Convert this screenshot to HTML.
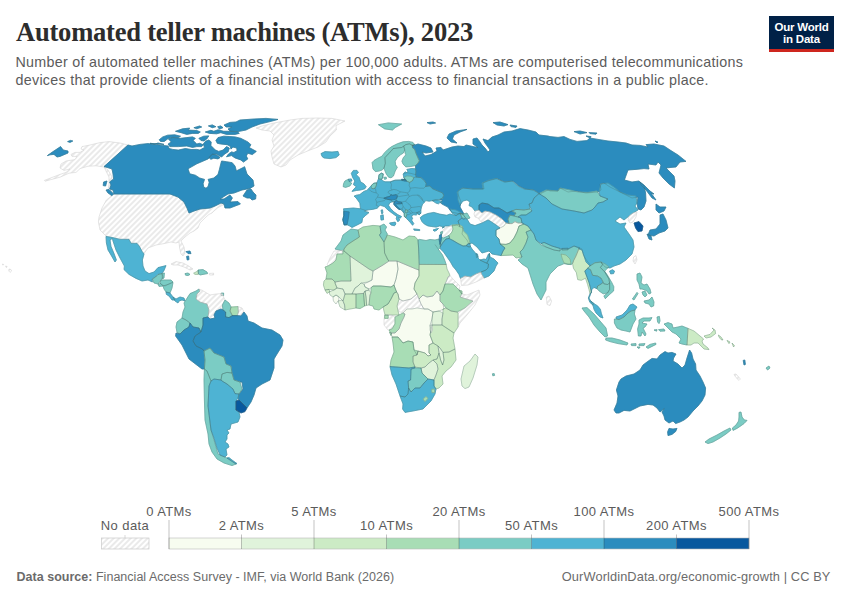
<!DOCTYPE html>
<html lang="en"><head><meta charset="utf-8"><title>Automated teller machines (ATMs), 2023</title>
<style>
html,body{margin:0;padding:0;background:#fff;}
body{width:850px;height:600px;position:relative;overflow:hidden;font-family:"Liberation Sans",sans-serif;}
#title{position:absolute;left:16px;top:16px;margin:0;font-family:"Liberation Serif",serif;font-weight:bold;font-size:26.6px;line-height:32px;color:#2d2d2d;white-space:nowrap;letter-spacing:-0.25px;}
#sub{position:absolute;left:15.5px;top:52.6px;margin:0;font-size:14.3px;line-height:18px;color:#5b5b5b;white-space:nowrap;letter-spacing:0.28px;}
#logo{position:absolute;left:769px;top:16px;width:65px;height:33px;background:#002147;border-bottom:3px solid #ce261e;color:#fff;font-weight:bold;font-size:11.5px;line-height:12px;text-align:center;letter-spacing:-0.22px;}
#logo span{display:block;}
#src{position:absolute;left:16.5px;top:569.3px;font-size:12.5px;line-height:16px;color:#6b6b6b;white-space:nowrap;letter-spacing:0.02px;}
#src b{font-weight:bold;}
#url{position:absolute;right:19.5px;top:569.3px;font-size:12.8px;line-height:16px;color:#6b6b6b;white-space:nowrap;letter-spacing:0.11px;}
#map{position:absolute;left:0;top:0;}
</style></head><body>
<h1 id="title">Automated teller machines (ATMs), 2023</h1>
<p id="sub">Number of automated teller machines (ATMs) per 100,000 adults. ATMs are computerised telecommunications<br>devices that provide clients of a financial institution with access to financial transactions in a public place.</p>
<div id="logo"><span style="padding-top:5px">Our World</span><span>in Data</span></div>
<svg id="map" width="850" height="600" viewBox="0 0 850 600">
<defs><pattern id="hatch" width="4" height="4" patternUnits="userSpaceOnUse" patternTransform="rotate(45)"><rect width="4" height="4" fill="#fff"/><line x1="1" y1="0" x2="1" y2="4" stroke="#e2e2e2" stroke-width="1.45"/></pattern>
<style>.lt{font-family:"Liberation Sans",sans-serif;font-size:13px;fill:#5b5b5b;letter-spacing:0.4px;}</style></defs>
<g id="countries">
<path d="M47.4,155.6L52.4,152L60.6,146.6L63.2,150L68,151L68,153L60,156.4L57,157L54,154.4L50,154.8ZM67.6,141.6L70.4,140.4L72.8,141L70,142.4Z" fill="#2b8cbe" stroke="#2b8cbe" stroke-width="0.7" stroke-linejoin="round"/>
<path d="M128,145L120,143L109,141.6L100,142.6L90,145L82,146.6L81,149L84,150L80,152.4L75,152.4L71,154.4L72,156.4L77,156.4L75,159.6L66,161L61,164L60,168L64,170.4L70,169L66,172.4L60,174.4L44.4,180.4L45,181.2L60,177.2L69,173.2L76,172.4L80,168.6L88,166.2L96,165.8L104,167L108,170L111.6,176L112.6,184L110,189L113.6,194L111.2,196.4L108,190.4L109,184L109,177L106,171L104,166.6ZM114,194L170,194L178,197L184,202L187,208L189,213L194,211L200,209L210,208L215,206L221,203L224,204L225,208L226,203L223,205L218,207.6L214,211L212,213L209,214.4L206,217L203,220L200,223L198,228L194,231L190,233L185,237L181,241L184,247L185,253L183,256L181,254L179.6,248L179,242L176,243L171,242L164,243.6L156,245L148,248L144,253.6L142,251L139,246L137,243L131,243L129,239L120,239L113,237.6L106,236L100,230L98.4,222L99,217L102,208L106.4,200L109,198Z" fill="url(#hatch)" stroke="#d3d3d3" stroke-width="0.6" stroke-linejoin="round"/>
<path d="M128,145L132,146L140,144.4L148,143.6L154,144.4L158,143L164,144.4L150,143.3L152.8,144L156.4,144.4L162.8,145.4L168.1,146L169.1,148.5L172.7,149.4L178.3,150.1L185.4,148.5L191.1,149.5L196.8,149.4L199.9,150.1L204.5,147.4L203.3,144L205.5,141.2L208.8,140L211.2,141.9L210.9,145.4L213.2,148L215.5,150L218.7,151.4L223,150.1L226.5,146.6L229.3,148L228.2,151.8L224.4,154.2L221.6,157L216.6,154.2L212.3,154.2L208.1,158.9L196.8,163.8L188,168.8L189.7,173.8L195.3,175.2L199.6,178L204.5,179.4L203.1,183.7L203.8,187.2L206,188.2L208.1,186.5L209.2,182.3L208.1,179.4L213.8,178L218,174.5L219.4,169.5L220.8,163.8L221.6,161L226.5,161.7L232.2,162.7L235,166L236.4,170.9L242.1,168.1L244.6,166.7L247,174L253,180L254,186L250,188.4L242,190L234,193L228,194L220,199L224,199L230,195L232.4,198L230,202L238,201.6L240.4,204L230,208L225,208L224,204L221,203L215,206L210,208L200,209L194,211L189,213L187,208L184,202L178,197L170,194L114,194L113,190L109.6,189L111,185L109.6,182L113.6,179L113,174L112,169L109,168L104,166.6ZM106,190L109,189.4L113.6,194L112,195.6L108,193ZM103.6,182L107,181L105.6,186L103.2,185.6ZM243,196L247,190L251,189L253,192L256,195L255.6,199L252,200L250,198L247,198ZM215.9,140.5L218,137.6L223.7,136.2L229.3,136.5L235,136.9L240.7,138.3L247.8,141.9L250.9,144.7L249.2,147.5L256.3,151.4L252.3,154.6L247.8,153.2L246.3,156L247.8,158.9L243.5,162.1L240.7,159.9L235,157.9L231.5,155.6L226.5,156.8L228.6,153.9L231.5,151.9L233.9,152.5L237.1,150.7L236.7,148L232.9,147.1L231,149.1L230.1,146.1L227.2,144.7L220.8,144L217.3,143.3ZM208.8,157.5L212.3,154.2L216.6,155.1L220.1,157.5L218,158.9L213.8,158.2L210.9,159.3ZM168.4,139L172.7,137.6L180.5,138.3L186.8,137.6L192.5,136.9L195.3,138.3L193.2,140.5L196.8,144L199.6,143.3L203.1,144.7L201.7,146.6L196.8,146.6L192.5,147.4L186.8,146L178.3,146.6L169.8,146.6L168.1,144L171.3,141.9ZM159.2,139.8L162.8,136.9L167.7,135.2L174.8,134.8L180.5,136.2L178.3,137.6L172.7,137.2L168.4,138.3L164.2,141.5L160.6,141.5ZM198.9,138.3L203.8,136.2L208.8,135.9L206.7,139L203.8,140.9L201,140.5ZM175.5,131.3L182.6,128.8L189.7,128.1L188.3,130.1L196.8,130.5L200.3,132L198.2,133.4L192.5,133.4L186.8,134.4L181.2,132.7ZM193.9,127.7L199.6,126L201.7,127L196.8,128.8ZM205.3,132L210.9,130.3L213.8,131.3L218,129.8L223.7,131.3L229.3,131.3L237.8,132L239.3,133.4L235,134.4L226.5,134.4L220.8,132.7L216.6,133.8L209.5,133.4ZM208.4,125.9L212.3,124.9L215.9,126.7L212.3,127.7ZM217.7,126.7L220.8,125.9L223,127.7L219.4,129.1ZM224,125L230,122.4L236,122L240,120L254,119L266,118.4L278,119.4L270,121.6L260,124L252,127L246,130L238,131.6L230,131L228,129L232,127L226,127Z" fill="#2b8cbe" stroke="#2b8cbe" stroke-width="0.7" stroke-linejoin="round"/>
<path d="M256,128L262,126L274,123L290,120L302,118.4L318,118L332,118.4L345,121L336,125.6L336.4,130L330,136L326,142L318,147L310,150L298,155L290,160L286,165L281,167L274,164L272,157L271,151L274,146L272,140L274,135L270,131L262,130Z" fill="url(#hatch)" stroke="#d3d3d3" stroke-width="0.6" stroke-linejoin="round"/>
<path d="M321,153.6L325,151.6L332,152L338,151.4L339.2,155L336,157.6L330,158.6L324,158L322,156.4ZM106,236.4L106.4,243L108,250L111,255L115,262L116.4,260L114,253.6L111,246.4L110,240L112.4,238.4L113,241L116,250L120,258L124.4,266L124,269.6L129,274.4L136,278.4L142,281L148,280L152.4,282L152,279L155.6,277L158,274.4L162,273.6L164,270.4L166,265.6L158,267.6L154,272L149,273.6L145,271L143,266L142.4,260L144,254L142,251.4L139.4,246.4L137,243.4L131,243.4L129,239.4L120,239.4L112.4,237.6Z" fill="#4eb3d3" stroke="#4eb3d3" stroke-width="0.7" stroke-linejoin="round"/>
<path d="M152.4,279L155.6,277L158,274.4L162,273.6L163,277L161,280L158,284L154,283ZM162,273.6L164.4,273L164,278L162.4,279ZM161,280L164,280L171,280L173,282L169,284L165,286L162,285L160,283ZM158,284L161,283.6L163,286L159,286.4ZM163,286L169,284L173,282.4L172,288L170,293L166,292L164,289Z" fill="#7bccc4" stroke="#7bccc4" stroke-width="0.7" stroke-linejoin="round"/>
<path d="M166,292L170,293L173,297L175,300L172,300L169,296L166.4,294.4ZM173,297L176,299L180,297L184,298L185,301L182,300L179,301L178,303L175,301Z" fill="#4eb3d3" stroke="#4eb3d3" stroke-width="0.7" stroke-linejoin="round"/>
<path d="M171,264L176,261.6L183,263L188,265.6L193,269L190,270L184,267L178,265L173,265Z" fill="url(#hatch)" stroke="#d3d3d3" stroke-width="0.6" stroke-linejoin="round"/>
<path d="M186,251.6L190,251L191,253.6L188,253.6ZM186.6,256.4L188.6,256L189,259.6L187.2,260Z" fill="#2b8cbe" stroke="#2b8cbe" stroke-width="0.7" stroke-linejoin="round"/>
<path d="M185,273.6L188,273L190,274.4L188,275.6L185.6,275.2Z" fill="#7bccc4" stroke="#7bccc4" stroke-width="0.7" stroke-linejoin="round"/>
<path d="M193.6,273.2L196,272L198.4,270.4L198.4,274.4L195,274.4Z" fill="#ccebc5" stroke="#ccebc5" stroke-width="0.7" stroke-linejoin="round"/>
<path d="M198,270L203,269.6L207,272L207.6,273.6L203,274.4L200,275L198.4,273.6Z" fill="#7bccc4" stroke="#7bccc4" stroke-width="0.7" stroke-linejoin="round"/>
<path d="M209.6,273.4L213.6,273.2L213.6,275L209.6,275Z" fill="url(#hatch)" stroke="#d3d3d3" stroke-width="0.6" stroke-linejoin="round"/>
<path d="M221,293.2L223.6,293L223.6,295.6L221.2,295.6ZM184,303L190,293.6L196,291L199,289L200,291L197,294L196,299L200,302L207,304L209,310L208,317L203,318L203,325L201,332L199,328L193,327L190,323L186,320L182,318L183,312L185,307Z" fill="#7bccc4" stroke="#7bccc4" stroke-width="0.7" stroke-linejoin="round"/>
<path d="M199,289L202.4,290.4L210,295L216,294L222,293.6L225,300L222.4,305L223,310L221,309L216,311L214,315L215,318L210,319L208,317L209,310L207,304L200,302L196,299L197,294L200,291Z" fill="url(#hatch)" stroke="#d3d3d3" stroke-width="0.6" stroke-linejoin="round"/>
<path d="M225,300L229,303L231,307L230,311L232.4,315.6L229,317.6L225.6,317L225.6,312L223,310L222.4,305Z" fill="#7bccc4" stroke="#7bccc4" stroke-width="0.7" stroke-linejoin="round"/>
<path d="M231,307L238,306.6L238.4,312L237.4,315.6L232.4,315.6L230,311Z" fill="#a8ddb5" stroke="#a8ddb5" stroke-width="0.7" stroke-linejoin="round"/>
<path d="M238,306.6L242,308L244,312L241,316L237.4,315.6L238.4,312Z" fill="url(#hatch)" stroke="#d3d3d3" stroke-width="0.6" stroke-linejoin="round"/>
<path d="M177,322L182,318L186,320L190,323L189,327L184,330L180,334L177,332.4L176,327Z" fill="#7bccc4" stroke="#7bccc4" stroke-width="0.7" stroke-linejoin="round"/>
<path d="M176,333L180,334L184,330L189,327L190,323L193,327L199,328L201,332L195,336L193,341L196,346L202.4,349L204,351L205,360L204.4,369L202,369L189,359L182,345L175.6,336ZM203,318L208,317L210,319L215,318L214,315L216,311L221,309L223,310L225.6,312L225.6,317L229,317.6L232.4,315.6L237.4,315.6L241,316L244,312L247,316L248,321L254,323L262,328L272,330L280,335L283,340L282,346L277,354L274,359L274,368L270,380L262,384L256,388L254,395L251,402L247,408L244,405L239,400L238,398L239,394L243,389L242,382L240,382L234,380L232,373L231,366L226,364L224,357L214,353L210,348L204,351L202.4,349L196,346L193,341L195,336L201,332L203,325Z" fill="#2b8cbe" stroke="#2b8cbe" stroke-width="0.7" stroke-linejoin="round"/>
<path d="M204,351L210,348L214,353L224,357L226,364L231,366L232,373L227,372.4L222,374L221,380L214,379L211,381L207,371L204.4,369L205,360ZM222,374L227,372.4L232,373L234,380L240,382L242,389L239,394L235,393.6L233,389L227,384L222,381L221,380ZM204.4,369L207,371L211,381L209,386L208,406L211,430L214,440L218,454L222,456L227,458L230,460L236,464L232,465.6L224,463L217,459L212,452L209,444L208,434L205,420L204.4,400L204,380Z" fill="#7bccc4" stroke="#7bccc4" stroke-width="0.7" stroke-linejoin="round"/>
<path d="M211,381L214,379L221,380L222,381L227,384L233,389L235,393.6L239,394L238,398L236,401L235.6,410L239,412L240,417L238,422L231,424L230,429L227,430L229,433L227,435L227,439L225,442L228,444L229,447L226,449L227,455L225,457L220,455L217,448L214,438L211,430L208,406L209,386ZM227,458L229,457.6L232,460L237,463.6L236,464L230,460Z" fill="#4eb3d3" stroke="#4eb3d3" stroke-width="0.7" stroke-linejoin="round"/>
<path d="M236,401L239,400L244,405L247,408L245,411.6L241,413L236,410Z" fill="#08589e" stroke="#08589e" stroke-width="0.7" stroke-linejoin="round"/>
<path d="M9,269L11,269.6L11.6,271L10,272.4L8.8,271ZM5.6,266L7.2,266.6L6.4,267.6ZM2.4,264L3.6,264.4L3,265.2Z" fill="url(#hatch)" stroke="#d3d3d3" stroke-width="0.6" stroke-linejoin="round"/>
<path d="M335,249L341,241L343,235L351,229L358,230L359.4,237L353,241L347,245L344,249L343,251Z" fill="#7bccc4" stroke="#7bccc4" stroke-width="0.7" stroke-linejoin="round"/>
<path d="M327,265L330,258L334,251L343,250.6L343,254L337,254L336,260L333,263L328,266Z" fill="url(#hatch)" stroke="#d3d3d3" stroke-width="0.6" stroke-linejoin="round"/>
<path d="M344,249L347,245L353,241L359.4,237L358,230L363,227L373,225.4L380,226L381,233L379.4,235L384,242L384.6,253L388,260L389,261L383,265L373,271L369,269L350,256L344,251Z" fill="#a8ddb5" stroke="#a8ddb5" stroke-width="0.7" stroke-linejoin="round"/>
<path d="M380,226L384,224L386.6,227L385,230L387.4,234L386,238L384,242L379.4,235L381,233Z" fill="#7bccc4" stroke="#7bccc4" stroke-width="0.7" stroke-linejoin="round"/>
<path d="M384,242L386,238L387.4,235L395,237L403,240L409,236L415,236.6L418,240L418.6,248L419,270L416,269L397,261L389,261L388,260L384.6,253Z" fill="#a8ddb5" stroke="#a8ddb5" stroke-width="0.7" stroke-linejoin="round"/>
<path d="M418,240L419.4,239.4L420,239.5L426,240.5L430,239.5L435,240L439,239L440,242.5L440.5,245L439.5,248.5L438.5,249.5L442.5,255L445,261L446.2,264.5L419.4,264.4L418.6,248Z" fill="#7bccc4" stroke="#7bccc4" stroke-width="0.7" stroke-linejoin="round"/>
<path d="M325,267L328,266L333,263L336,260L337,254L343,254L343,251L344,251L350,256L351,281L341,281L335,282L332,279L326,279L327,273Z" fill="#a8ddb5" stroke="#a8ddb5" stroke-width="0.7" stroke-linejoin="round"/>
<path d="M350,256L369,269L373,271L372,280L368,282L361,283L358,286L355,288L352,294L345,294L343,289L337,288L335,283L335,282L341,281L351,281Z" fill="#e0f3db" stroke="#e0f3db" stroke-width="0.7" stroke-linejoin="round"/>
<path d="M373,271L383,265L389,261L397,261L398,269L396,279L394,285L391,287L381,286L373,286L369,289L365,287L364,284L368,282L372,280ZM397,261L416,269L419,270L419,276L415,283L414,289L417,294L411,299L403,301L399,299L398,294L396.6,292L395,288L394,285L396,279L398,269Z" fill="#f7fcf0" stroke="#f7fcf0" stroke-width="0.7" stroke-linejoin="round"/>
<path d="M419.4,264.4L446.2,264.5L447,269L449,273L450,275.5L448,277L446.5,281L445,284L443,291L440,295L437,291L433,296L427,297L423,295L419,299L417,294L414,289L415,283L419,276L419,270Z" fill="#ccebc5" stroke="#ccebc5" stroke-width="0.7" stroke-linejoin="round"/>
<path d="M448,277L450,275.5L453,279L457,283L460,286L459,290L453,284L448,284L445,284L446.5,281Z" fill="url(#hatch)" stroke="#d3d3d3" stroke-width="0.6" stroke-linejoin="round"/>
<path d="M445,284L448,284L453,284L459,290L462,294L460,297L473,301L465,308L457,312L451,311L446,308L443,304L440,301L440,295L443,291ZM459,290L462,291L462,294Z" fill="#a8ddb5" stroke="#a8ddb5" stroke-width="0.7" stroke-linejoin="round"/>
<path d="M462,294L467,295L479,290L480,295L475,305L467,315L460,323L458,327L458,313L465,308L473,301L460,297Z" fill="url(#hatch)" stroke="#d3d3d3" stroke-width="0.6" stroke-linejoin="round"/>
<path d="M419,299L423,295L427,297L433,296L437,291L440,295L440,301L443,304L444,309L439,311L433,312L428,309L424,309L421,304Z" fill="#f7fcf0" stroke="#f7fcf0" stroke-width="0.7" stroke-linejoin="round"/>
<path d="M399,299L403,301L411,299L417,294L419,299L421,304L424,309L417,308L412,309L407,309L403,313L398,311L397,306Z" fill="url(#hatch)" stroke="#d3d3d3" stroke-width="0.6" stroke-linejoin="round"/>
<path d="M394,293L396.6,292L398,294L399,299L397,306L398,311L399,315L392,315L385,315L384,311L383,307L388,304L391,299Z" fill="#ccebc5" stroke="#ccebc5" stroke-width="0.7" stroke-linejoin="round"/>
<path d="M371,288L373,286L381,286L391,287L394,285L395,288L396.6,292L394,293L391,299L388,304L383,307L379,310L374,309L373,306L369,305L370,295L371,293Z" fill="#a8ddb5" stroke="#a8ddb5" stroke-width="0.7" stroke-linejoin="round"/>
<path d="M365,291L369,290L371,293L370,295L369,305L366.6,305.4L366,297Z" fill="#e0f3db" stroke="#e0f3db" stroke-width="0.7" stroke-linejoin="round"/>
<path d="M363.6,293.4L365,291L366,297L366.6,305.4L364.6,306L364,299Z" fill="#ccebc5" stroke="#ccebc5" stroke-width="0.7" stroke-linejoin="round"/>
<path d="M356,294L363.6,293.4L364,299L364.6,306L360,308.6L356,308L356,301Z" fill="#a8ddb5" stroke="#a8ddb5" stroke-width="0.7" stroke-linejoin="round"/>
<path d="M352,294L355,288L358,286L361,283L364,284L365,287L369,289L369,290L365,291L363.6,293.4L356,294Z" fill="#e0f3db" stroke="#e0f3db" stroke-width="0.7" stroke-linejoin="round"/>
<path d="M345,294L352,294L356,294L356,301L356,308L350,309L345,310L344.6,305L343,301Z" fill="#ccebc5" stroke="#ccebc5" stroke-width="0.7" stroke-linejoin="round"/>
<path d="M338,301L342,300L343,301L344.6,305L345,310L340,307Z" fill="#e0f3db" stroke="#e0f3db" stroke-width="0.7" stroke-linejoin="round"/>
<path d="M333,297L336,295L339,297L338.6,301L338,301L336,304L333.4,301Z" fill="#f7fcf0" stroke="#f7fcf0" stroke-width="0.7" stroke-linejoin="round"/>
<path d="M329,292L334,290L337,288L343,289L345,294L343,301L342,300L339,297L336,295L333,297L330,295Z" fill="#e0f3db" stroke="#e0f3db" stroke-width="0.7" stroke-linejoin="round"/>
<path d="M325,290L329,289.4L330,292L329,292L327,293.4ZM324,281L326,279L332,279L335,282L335,283L337,288L334,290L329,289.4L325,290L323.4,285Z" fill="#ccebc5" stroke="#ccebc5" stroke-width="0.7" stroke-linejoin="round"/>
<path d="M384,319L385,315L392,315L395,317L395,324L392,329L388,330L384,325Z" fill="url(#hatch)" stroke="#d3d3d3" stroke-width="0.6" stroke-linejoin="round"/>
<path d="M384.6,315.2L388.2,315.2L388.2,318.4L384.6,318.4ZM395,317L399,315L403,313L405,314L404,317L401,323L399,329L395,333L391,333L389,330L392,329L395,324Z" fill="#a8ddb5" stroke="#a8ddb5" stroke-width="0.7" stroke-linejoin="round"/>
<path d="M403,313L407,309L412,309L417,308L424,309L428,309L433,312L432,319L430,325L431,330L430,335L433,343L429,345L429,353L431,355L428,356L425,353L418,351L417,355L414,350L413,342L408,341L403,343L398,337L392,337L391,333L395,333L399,329L401,323L404,317L405,314Z" fill="#f7fcf0" stroke="#f7fcf0" stroke-width="0.7" stroke-linejoin="round"/>
<path d="M392,337L398,337L403,343L408,341L413,342L414,350L418,351L417,355L413,356L413,362L415,367L409,368L396,367L390,366.6L391,360L394,352L393,343ZM389.4,332L391.4,333L391,335.6Z" fill="#a8ddb5" stroke="#a8ddb5" stroke-width="0.7" stroke-linejoin="round"/>
<path d="M417,355L418,351L425,353L428,356L431,355L429,353L429,345L433,343L438,346L439,353L437,359L433,360L429,363L425,367L421,368L415,367L413,362L413,356ZM432,325L442,325L454,333L453,338L455,349L449,352L443,352.4L440,348L438,346L433,343L430,335L431,330ZM443,313L443,309L446,308L451,311L457,312L458,313L458,327L454,333L442,325L442,319Z" fill="#ccebc5" stroke="#ccebc5" stroke-width="0.7" stroke-linejoin="round"/>
<path d="M433,312L439,311L443,313L442,319L442,325L432,325L432,319Z" fill="#e0f3db" stroke="#e0f3db" stroke-width="0.7" stroke-linejoin="round"/>
<path d="M430,325L432,325L432.6,330L431,333L430,330Z" fill="#f7fcf0" stroke="#f7fcf0" stroke-width="0.7" stroke-linejoin="round"/>
<path d="M438,346L440,348L443,352.4L444,360L442.6,365L440.6,360L439,353Z" fill="#e0f3db" stroke="#e0f3db" stroke-width="0.7" stroke-linejoin="round"/>
<path d="M443,352.4L449,352L455,349L456,360L451,367L446,371L442,376L443,384L439,388L436,389L434,386L434,380L436,375L438,369L437,364L433,360L437,359L439,353L440.6,360L442.6,365L444,360Z" fill="#ccebc5" stroke="#ccebc5" stroke-width="0.7" stroke-linejoin="round"/>
<path d="M425,367L429,363L433,360L437,364L438,369L436,375L434,380L428,379L422,373L421,368Z" fill="#e0f3db" stroke="#e0f3db" stroke-width="0.7" stroke-linejoin="round"/>
<path d="M411,369L415,368L421,368L422,373L428,379L424,383L420,388L415,388L411,392L408.6,388L408,381L410.6,380Z" fill="#7bccc4" stroke="#7bccc4" stroke-width="0.7" stroke-linejoin="round"/>
<path d="M390,366.6L396,367L409,368L415,367L415,368L411,369L410.6,380L408,381L408.6,388L408,394L405,397L400,396L396,384L392,375ZM400,396L405,397L408,394L408.6,388L411,392L415,388L420,388L424,383L428,379L434,380L434,386L436,389L435,394L431,401L423,409L413,411L405,412.4L402.6,409L403,404Z" fill="#4eb3d3" stroke="#4eb3d3" stroke-width="0.7" stroke-linejoin="round"/>
<path d="M423,399L426,396.6L428,398.4L425,401.6ZM431.6,389.4L434.4,389L434.6,392.4L432,392.8Z" fill="#a8ddb5" stroke="#a8ddb5" stroke-width="0.7" stroke-linejoin="round"/>
<path d="M461,379L464,366L470,361L475,354L478,357L477,365L473,378L469,387L465,388.6L462,386Z" fill="#e0f3db" stroke="#e0f3db" stroke-width="0.7" stroke-linejoin="round"/>
<path d="M492.4,373.8L494.2,373.6L494.6,375.4L492.8,375.8Z" fill="#7bccc4" stroke="#7bccc4" stroke-width="0.7" stroke-linejoin="round"/>
<path d="M412,146L418,144L426,146L431,148L433,152L426,153L422,152L425,156L431,154.6L437,151L436,148L441,147.4L443,150L452,147L458,146L464,146.6L466,145L475,147L478,147.6L473,144L473,139L477,138L480,142L482,145L485,148L488,152L490,150L488,147L485,143L483,139L488,140.6L492,137L498,135L504,132L512,131L520,128.6L528,130L536,132L539,135L548,136L550,136.6L558,137.4L564,136.6L570,139.4L577,141.4L587,140.6L590,138L598,139.4L608,141L618,142L626,143L632,145L640,145.4L648,147L646,144.6L654,144L664,146L670,150L678,155L686,161.4L680,162L676,167L671,167.4L666,168L670,172L674,176L675,181L674.4,188L669,184L663,178L659,173L661,165L658,162L656,165L648,164L649,169L644,168.6L636,169.4L628,170L624.4,180L632,182L639,181L644,186L645.6,193L646,201L644,207L641,210L638,209L637,203L638,197L632,198L626,195L618,191L610,187L604,183L600,184L601,190L598,192L586,193L576,191L568,192L560,188L558,191L550,191L548,190L540,194L534,190L525,189L519,186L513,181L505,182L497,178.6L489,180.6L483,183L484,189L473,189L463,188L458,191L458.4,195L461,202L460,207L464,214L460,214L456,213L452.6,212.4L450.3,210.6L447.9,207.1L442.1,204.1L440.3,202.6L442.6,200.6L439.7,199.4L442.6,198.2L443.8,195.3L442.6,192.9L437.4,190.8L432.6,188.8L429.7,185.9L425.6,186.5L426.2,183.5L424.4,180.6L420.9,177.6L416.2,177.1L415.6,174.7L415.9,171.8L415.6,168.8L415.5,165.5L417.9,163.3L419.3,160.8L417.9,157.7L416,153.4L414.6,149.2L412.6,147.8L412.2,145.2L414.6,144.6ZM447,138L449,134L456,131L467,129.4L460,132L454,135L452.4,139L457,143L451,142ZM427,122.6L433,122L435.6,123L430,124ZM493,122.6L500,122L508,124.6L504,126L497,125ZM510,125L517,126L516,127.4L511,126.6ZM574,131.6L580,131L587,132.6L580,134ZM589,132.6L597,133L596,134.2L590,133.6ZM586,136L591,136.6L590,138ZM655,141L658,142L657,143ZM640,182L644,185L650,191L654,194L651,193L656,200L652,198L646,190L641,185ZM401.6,179.2L405.8,179.6L405.6,181L401.9,180.6Z" fill="#2b8cbe" stroke="#2b8cbe" stroke-width="0.7" stroke-linejoin="round"/>
<path d="M366.8,190.4L368.5,188.8L371.5,185.3L373.8,183.3L376.8,182.9L378.5,178.8L379.1,174.7L381.5,173.2L383.2,173.9L382.6,177.6L381.5,179.4L383.2,180.9L385,181.8L390.3,181.8L395,180.2L401.5,180L405,179.1L403.8,177.6L403.2,174.1L405,171.8L406.8,172.7L407.9,171.2L406.8,169.4L411.5,168.5L415.6,168.8L415.9,171.8L415.6,174.7L416.2,177.1L420.9,177.6L424.4,180.6L426.2,183.5L425.6,186.5L429.7,185.9L432.6,188.8L437.4,190.8L442.6,192.9L443.8,195.3L442.6,198.2L439.7,199.4L436.2,200L435.6,200L432.6,200.6L429.1,201.2L425.6,200.6L424.4,202.4L422.6,204.1L421.5,207.1L420.9,210L420.9,213.2L419.1,214.7L417.9,213.5L416.2,215.1L413.8,214.7L411.5,215.9L412.6,218.8L411.5,220L413.8,223.5L412.6,225.3L410.3,222.4L407.9,220L405.8,217.6L404.4,216.5L404.2,213.5L402.1,210.8L400.3,209.4L399.1,209.4L395.6,206.5L393.8,204.1L394.4,201.8L392.1,201.8L389.7,202.9L388.5,205.3L390.3,208.2L393.8,211.8L397.9,214.7L401.5,216.5L400.3,218.2L398.5,217.1L399.7,220L397.9,221.8L396.2,218.8L396.8,216.5L392.6,213.5L387.9,210L384.4,206.5L380.3,205.3L378.5,206.5L377.4,208.2L372.6,209.4L366.8,210L364.4,211.2L369,212.6L365.5,215.5L362.6,218.3L361.9,222.5L357.7,224.7L352,227.5L349.9,226.1L347,224.7L344.2,225L342.8,219.7L343.8,215.5L343.8,211.2L343.5,208.8L353.4,208L360.5,208.8L359.8,203.1L356.3,198.2L354.1,196.1L356.3,195.2L359.8,194.6L363.3,191.8L365.5,190.7ZM432.1,200.5L435.6,199.8L437.9,200.1L440.9,201.2L442.3,202.4L439.9,202.6L438.5,203.8L436.4,203.3L434.4,202.1Z" fill="#4eb3d3" stroke="#4eb3d3" stroke-width="0.7" stroke-linejoin="round"/>
<path d="M343.8,211.2L349.2,211.9L348.5,217.6L347,224.7L344.2,225L342.8,219.7L343.8,215.5Z" fill="#2b8cbe" stroke="#2b8cbe" stroke-width="0.7" stroke-linejoin="round"/>
<path d="M371.5,185.3L373.8,183.3L376.8,182.9L376.2,185.9L375,188.2L373.2,188.8L371.5,188.2ZM378.5,178.8L379.1,174.7L381.5,173.2L383.2,173.9L382.6,177.6L381.5,179.4ZM383.8,177.4L386.2,177.1L386.5,178.8L384.6,179.4ZM372.1,162.6L374,160.5L377.5,158.4L381.8,156.3L384.6,152.7L388.1,149.2L391.7,146.6L397.3,143.8L403,141.8L408.7,141.4L412.9,142.4L414.6,144.6L412.2,145.2L409.4,143.8L405.8,144.6L403.7,146.1L401.6,147.5L397.3,148L393.1,148.6L391,151.3L388.1,154.1L384.9,157.7L385.3,163.3L383.9,168.3L382,170.1L378.9,171.1L375.4,171.6L373,169ZM393.1,148.6L397.3,148L401.6,147.5L403.7,146.1L404.7,149.9L403.3,153.1L400.5,154.8L397.3,157.7L395.2,161.2L395.6,164.8L397.3,167.3L395.2,171.1L393.4,176.1L391,177.8L388.6,177.2L386.3,174L383.9,168.3L385.3,163.3L384.9,157.7L388.1,154.1L391,151.3ZM403.7,146.1L405.8,144.6L409.4,143.8L412.2,145.2L412.6,147.8L414.6,149.2L416,153.4L417.9,157.7L419.3,160.8L417.9,163.3L415.5,165.5L410.8,166.5L405.8,166.9L403,164L401.9,161.2L403.3,157.7L405.8,154.8L405.1,153.1L404.7,149.9ZM403.8,177.6L406.8,175.9L410.9,176.2L413.8,177.6L412.6,180.6L409.7,182.4L406.8,181.2L405.6,179.4Z" fill="#7bccc4" stroke="#7bccc4" stroke-width="0.7" stroke-linejoin="round"/>
<path d="M401.5,180L405,179.1L405.6,180.2L406.8,181.2L404.4,180.9Z" fill="#2b8cbe" stroke="#2b8cbe" stroke-width="0.7" stroke-linejoin="round"/>
<path d="M343.5,183.9L344.9,181L348.5,179.2L349.2,181.5L351.7,183.2L349.9,186L345.6,187.4L343.2,186.7Z" fill="#7bccc4" stroke="#7bccc4" stroke-width="0.7" stroke-linejoin="round"/>
<path d="M348.5,179.2L351.3,178.9L352,181L349.2,181.5ZM351.3,173.3L353.4,170.4L357,170.4L358.4,172.5L356.3,174.7L359.1,177.5L360.5,181.8L364,183.9L366.2,186.7L364.8,188.8L360.5,190L356.3,190.5L352,191.4L354.1,188.8L356.3,186.7L353.4,184.6L354.8,181L352.7,177.5Z" fill="#4eb3d3" stroke="#4eb3d3" stroke-width="0.7" stroke-linejoin="round"/>
<path d="M383.8,198.2L386.8,197.1L389.7,196.5L390.9,194.7L392.6,195.3L396.2,194.7L397.4,195.9L396.8,198.2L395,199.4L391.5,200L387.9,199.4L385.8,198.8ZM394.4,201.8L396.2,200.6L398.5,201.8L401.5,202.1L402.1,203.5L399.7,203.8L396.8,203.8L395.6,204.5L397.4,206.5L400.3,209.4L399.1,209.4L395.6,206.5L393.8,204.1Z" fill="#2b8cbe" stroke="#2b8cbe" stroke-width="0.7" stroke-linejoin="round"/>
<path d="M404.2,213.5L405.8,212.4L406.8,214.7L405.8,217.6L404.4,216.5ZM405,210.4L407.4,209.6L408.2,211.5L406.5,212.6L405,212Z" fill="#7bccc4" stroke="#7bccc4" stroke-width="0.7" stroke-linejoin="round"/>
<path d="M381,210.2L382.5,209.8L382.9,213.1L381.8,214ZM380.6,215.5L383.2,214.8L383.6,219.7L381,220.1ZM389.5,223L395.2,222.1L395.9,224L394.5,225.8L391,225ZM413.6,228.9L419.7,229.6L419.7,230.6L414.3,230.3ZM433,230L436.5,228.8L438.5,228.5L436.5,230.5L434.5,231.2Z" fill="#4eb3d3" stroke="#4eb3d3" stroke-width="0.7" stroke-linejoin="round"/>
<path d="M378.4,124.7L388.2,122.9L401.7,124L395.3,127.5L392.5,130L384.7,128.9Z" fill="#7bccc4" stroke="#7bccc4" stroke-width="0.7" stroke-linejoin="round"/>
<path d="M420.9,219.4L420.3,217.6L423.2,215.3L427.9,213.5L433.8,212.4L439.7,214.1L446.8,215.3L450,214L456,215.6L460,213L462,218L458,221L460,227L457,225L452,226L445,226L442,228L444.4,227.1L439.7,225.9L436.2,227.1L431.5,226.5L427.9,225.9L424.4,224.1L422.1,221.8ZM416.2,212.9L419.1,211.8L420.9,213.2L419.1,214.7L417.9,213.5ZM450,209L456,210L460,212L463,214L460,213L456,215.6L452,213Z" fill="#4eb3d3" stroke="#4eb3d3" stroke-width="0.7" stroke-linejoin="round"/>
<path d="M460,213L463,214.4L465.6,218L463.6,220L462,218ZM463,214L467,213L470,218L467,219L465.6,218L463,214.4Z" fill="#7bccc4" stroke="#7bccc4" stroke-width="0.7" stroke-linejoin="round"/>
<path d="M458,196L457,192L462,188L472,189L483,189L482,183L488,180.4L496,178.4L504,182L512,181L518,186L524,189L533,190L539,193.6L534,198L532,203L529,204L530,209L524,210L516,209.4L512,211L507,213L504,211L499,208L494,208L488,204L482,203L479,205L479,210L475,211L472,207L469,205.6L470,202L467,200L463,201L460,205L458,200Z" fill="#4eb3d3" stroke="#4eb3d3" stroke-width="0.7" stroke-linejoin="round"/>
<path d="M479,205L482,203L488,204L494,208L499,208L504,211L507,213L512,211L516,213L514,216L510,215L508,219L509,223.6L506,223L502,219L496,215L490,212L485,211L482,213L479.6,211L479,210Z" fill="#2b8cbe" stroke="#2b8cbe" stroke-width="0.7" stroke-linejoin="round"/>
<path d="M475,211L479,210L479.6,211L482,213L485,211L490,212L496,215L502,219L506,223L504,226L500,228L496,225L490,221L488,220L482,223L478,218L475,217L474,214Z" fill="url(#hatch)" stroke="#d3d3d3" stroke-width="0.6" stroke-linejoin="round"/>
<path d="M512,211L516,209.4L524,210L530,209L532,211L526,215L521,215L518,217L514,216L516,213ZM510,215L514,216L518,217L521,218L522,223L518,223L515,221.6L512,223.6L509,223.6L508,219Z" fill="#7bccc4" stroke="#7bccc4" stroke-width="0.7" stroke-linejoin="round"/>
<path d="M496,230L500,228L504,226L506,223L509,223.6L512,223.6L515,221.6L518,223L522,223L524,224L519,226L517,232L514,238L510,243L506,244.4L500,244L499,239L496,236Z" fill="#f7fcf0" stroke="#f7fcf0" stroke-width="0.7" stroke-linejoin="round"/>
<path d="M500,244L506,244.4L510,243L514,238L517,232L519,226L524,224L528,226L531,230L526,232L528,237L526,243L523,249L520,252L522,257L516,258L513,255L501,255.6L503,251L505,248Z" fill="#a8ddb5" stroke="#a8ddb5" stroke-width="0.7" stroke-linejoin="round"/>
<path d="M458,221L462,218L467,219L470,224L475,225.6L482,223L488,220L490,221L496,225L500,228L496,230L496,236L499,239L500,244L505,248L503,251L501,255.6L492,254L489,251L482,253L477,247L472,243L469,244L467,240L462,234L463,228L460,227Z" fill="#4eb3d3" stroke="#4eb3d3" stroke-width="0.7" stroke-linejoin="round"/>
<path d="M442.5,230.5L445,228L452,225L453,229L452,232L449,235.5L443.5,238L441.5,237.5L442,234Z" fill="url(#hatch)" stroke="#d3d3d3" stroke-width="0.6" stroke-linejoin="round"/>
<path d="M452,225L459,224.5L462.5,226.5L463.5,231L467.5,235L469.5,241L469.8,243.5L467.5,244L466.5,245.8L463,246L458,243.5L453,240.5L449,238.5L449.5,238L449,235.5L452,232L453,229Z" fill="#a8ddb5" stroke="#a8ddb5" stroke-width="0.7" stroke-linejoin="round"/>
<path d="M440.5,232L442.5,231.5L442,234L440.8,234.5ZM441.5,237.5L443.5,238L449,235.5L449.5,238L449,238.5L446,239L442.5,243L440.5,246.5L440,244.5L441,241Z" fill="#7bccc4" stroke="#7bccc4" stroke-width="0.7" stroke-linejoin="round"/>
<path d="M439.5,235L441.5,234.5L441.5,237.5L441,241L440,244.5L439.2,240Z" fill="#2b8cbe" stroke="#2b8cbe" stroke-width="0.7" stroke-linejoin="round"/>
<path d="M440.5,246.5L442.5,243L446,239L449,238.5L453,240.5L458,243.5L463,246L466.5,245.8L469,247L470.5,246.5L472,249L475,252.5L477.5,256L478.5,258.5L480,260L484,262L486.8,263.2L488.5,264L488,268L486,270L481,272L476,274L470.5,277L465,276L460.5,278.5L459,274.5L456,270L453,266.5L450.5,262L447,257L443.5,252L440.5,249ZM466.5,245.8L467.5,244L469.8,243.5L470.5,246.5L469,247ZM476,253.5L477.5,254L478,257L476.5,257.5ZM480,260L484,259L486,259.5L488.5,254L489.5,253.5L489,259L486.8,263.2L484,262ZM489.5,253.5L490,257L494,259L498,263L496,266L494,271L489,276L484,278L481.5,274L481,272L486,270L488,268L488.5,264L486.8,263.2L489,259Z" fill="#4eb3d3" stroke="#4eb3d3" stroke-width="0.7" stroke-linejoin="round"/>
<path d="M460.5,278.5L465,276L470.5,277L476,274L481,272L481.5,274L484,278L476,282L468,285L461.5,285.5Z" fill="url(#hatch)" stroke="#d3d3d3" stroke-width="0.6" stroke-linejoin="round"/>
<path d="M526,232L531,230L534,234L536,240L541,245L546,247L554,250L560,251L561,249L568,249L574,246L579.4,247.6L578,251.2L576,256.2L573.8,260.4L572.8,263.2L571.2,264.6L568,264.4L564,263.6L561,265L558,266L550,274L546,282L546,290L541,300L537,294L533,284L528,268L522,264L518,260L522,257L520,252L523,249L526,243L528,237ZM541,243.6L544,242.4L552,246L560,248.4L560,251L554,250L546,247ZM562,248.4L568,248L568,250L562.4,250.4Z" fill="#7bccc4" stroke="#7bccc4" stroke-width="0.7" stroke-linejoin="round"/>
<path d="M561,254L566,255L570,259L571,264L568,264L564,263L562,258Z" fill="#a8ddb5" stroke="#a8ddb5" stroke-width="0.7" stroke-linejoin="round"/>
<path d="M546.4,297L549,296L551.6,301L550,305.6L547,304.4Z" fill="url(#hatch)" stroke="#d3d3d3" stroke-width="0.6" stroke-linejoin="round"/>
<path d="M579.1,247.7L582,249.1L583.4,254.8L586.2,259.8L590.5,265.4L587.6,268.3L584.8,271.1L586.9,276.8L589,282.4L590.5,288.1L591.5,292.3L590,293.8L589,289.5L587.6,284.5L585.5,278.2L581.3,280.3L577.7,279.6L576.3,272.5L573.5,268.3L572.5,263.3L573.5,260.5L575.6,256.2L577.7,251.3Z" fill="#ccebc5" stroke="#ccebc5" stroke-width="0.7" stroke-linejoin="round"/>
<path d="M539,193.6L546,190L558,191L560,188L570,190L578,192L588,192.4L597,191L600,196L608,199L603,202L598,203L595,207L592,210L584,213L574,211L562,209L552,204L546,198Z" fill="#7bccc4" stroke="#7bccc4" stroke-width="0.7" stroke-linejoin="round"/>
<path d="M532,211L529,204L532,203L534,198L539,193.6L546,198L552,204L562,209L574,211L584,213L592,210L595,207L598,203L603,202L608,199L600,196L599,191L601,184L608,183L614,187L620,192L628,195L636,196L637,203L635,206L638,210L633,213L629,216L624,220L620,217L615,221L620,224L626,223L624,227L629,234L633,240L634,247L632,254L626,260L620,264L614,266L610,268L605,267L601,262L595,263L590,266L586,262L584,256L582,250L579,249L579,248L574,246L568,249L561,249L560,248.4L552,246L544,242.4L541,243.6L536,240L534,234L531,230L528,226L524,224L522,223L521,218L518,217L521,215L526,215ZM609.6,271.1L612.4,269.7L614.5,271.1L613.6,273.6L610.7,273.9Z" fill="#4eb3d3" stroke="#4eb3d3" stroke-width="0.7" stroke-linejoin="round"/>
<path d="M633.6,257L636,255.6L637,260L635,264L633,261ZM629,216L633,213L637,212L636,217L633,222L630,223L628,220Z" fill="url(#hatch)" stroke="#d3d3d3" stroke-width="0.6" stroke-linejoin="round"/>
<path d="M634,223L639,221.6L643,226L642,231L638,231.6L635.6,228Z" fill="#08589e" stroke="#08589e" stroke-width="0.7" stroke-linejoin="round"/>
<path d="M656,204L660,207L666,207L664,211L659,213L656,210ZM660,215L663,214L666,220L668,228L665,231L659,233L654,236L648,235L650,230L656,229L660,224ZM647,234L651,236L652,240L649,239Z" fill="#2b8cbe" stroke="#2b8cbe" stroke-width="0.7" stroke-linejoin="round"/>
<path d="M584.8,271.1L587.6,268.3L590.5,269.7L592.6,275.3L597.5,276L601.1,278.2L603.2,282.4L600.4,284.5L597.5,286L597.1,288.8L594,287.4L591.9,289.5L590.5,294.5L589,298L590.5,300.8L594,303.7L592.9,305.1L589.8,302.3L588.3,298L590,293.8L591.5,292.3L590.5,288.1L589,282.4L586.9,276.8ZM590.5,300.8L594,303.7L597.5,305.8L600.4,309.3L601.4,313.6L603,318L600,317L596,313L594,309.3L592.9,305.1Z" fill="#4eb3d3" stroke="#4eb3d3" stroke-width="0.7" stroke-linejoin="round"/>
<path d="M590.5,265.4L594.7,262.6L601.1,261.9L602.5,264.7L600.4,267.5L604.6,271.8L608.9,278.9L609.6,283.1L607.5,284.5L603.9,283.8L603.2,282.4L601.1,278.2L597.5,276L592.6,275.3L590.5,269.7L587.6,268.3ZM601.1,261.9L605.3,264L608.9,266.8L606.8,269L604.6,271.1L607.5,275.3L611.7,282.4L613.8,286.7L613.6,290.9L609.6,294.5L605.3,298.7L603.9,295.9L607.5,293L609.6,289.5L609.6,283.1L608.9,278.9L604.6,271.8L600.4,267.5L602.5,264.7ZM597.5,286L600.4,284.5L603.2,282.4L603.9,283.8L607.5,284.5L609.6,283.1L609.6,289.5L607.5,293L603.2,293.8L599,290.9L597.1,288.8ZM582,308L587,307.6L594,314L600,321L606,328L607.6,336L605,337L600,332L594,325L589,317L584,311ZM606,338L612,338L620,340L628,343L627,345L618,343.6L610,341.6L605.6,340ZM631,344L636,343.6L636,345.6L631.6,345.6ZM639,344L645,343.6L644,345.6L639,345.6ZM637,347L640,347L639,348.6ZM646,347L650,344.4L655.6,343L656,344.4L652,346.4L648,348.4Z" fill="#7bccc4" stroke="#7bccc4" stroke-width="0.7" stroke-linejoin="round"/>
<path d="M616,317L622,315L627,310L630,305L633,304L637,307L635,310L631,311L628,313L624,317L619,319.6L616.4,319Z" fill="#4eb3d3" stroke="#4eb3d3" stroke-width="0.7" stroke-linejoin="round"/>
<path d="M614.4,319L616.4,319L619,319.6L624,317L628,313L631,311L635,310L634.4,314L636,319L633,324L630,332L626,331L621,330L617,328L614.4,323ZM639,320L643,318L649,318L652,317.6L650,321L644,321L642,323L647,324L645,327L643,328L646,334L645,336L642,332L641,336L638.4,336L637.6,329L639,324ZM657,317L659.4,316.4L660,321L659,323.6L657.6,322ZM654,330L657,329.6L656.6,331.2ZM658.6,329.6L664,329L665,331L660,331.2ZM637,274L640,273L642,277L641,283L644,285L647,284L650,289L651,293L649,294L647,291L645,290L642,289L640,289L639,284L637,280ZM644,301L649,300L652,297L654,302L653.6,306L651,307L649,304L645,303ZM632.4,299L637,292.4L638,293.6L634,300ZM642,292L645,291L647,295L645,297L643,295ZM664,324L668,322.6L672,324L673,328L678,327L682,326L688,328.4L687,345L682,344L679,343L681,339L676,334L672,332L669,329L667,327Z" fill="#7bccc4" stroke="#7bccc4" stroke-width="0.7" stroke-linejoin="round"/>
<path d="M688,328.4L694,331L700,336L703.6,339L702,341L703,344L708,348L709,349.6L704,349L698,343L694,343L691,345L687,345ZM704,336L710,334.4L714,330L712,328L715,330L715.6,333.6L711,337L706,338ZM718.4,335L721,337L723,340L721,339.6L719,337ZM727,340.4L730,342L729,343.6ZM732,343L734.4,345.6L733.6,347Z" fill="#ccebc5" stroke="#ccebc5" stroke-width="0.7" stroke-linejoin="round"/>
<path d="M614,410L617,403L618,396L616.4,390L619,382L621,379L626,376L634,374L640,370L643,365L647,362L652,358.4L657,359L660,355L665,351.6L668,353L672,352.4L676,354L673.6,358L673,361L678,364L682,368L685,365L687,358L689.6,350L691.6,353L693,359L695.6,364L696,370L700,376L703,382L705.6,388L705,395L702,401L698,406L693,411L688,417L684,420L680,422L675.6,423.6L673,421L669,423L665,420L664,416L662,412L664.4,408.4L660,412L657,408L653,405L648,404.4L640,406L634,409L630,411L624,410.4L619,413L616,413ZM669,428.4L673,429L677,428.4L675.6,431.6L672,434.4L668,435.6L667.6,432Z" fill="#2b8cbe" stroke="#2b8cbe" stroke-width="0.7" stroke-linejoin="round"/>
<path d="M739,412.4L741,412L742,417L744.4,420L747,420.4L744,423.6L740,426.4L737,428.4L733,430.4L732.4,428L736,425L738.6,421L739,417ZM730,428L731,430L726,434L720,438L713,442L708,443.6L705,442L709,439L717,435L724,431Z" fill="#7bccc4" stroke="#7bccc4" stroke-width="0.7" stroke-linejoin="round"/>
<path d="M734,374.4L736,374L740.4,379L739,380.4L736,377.6Z" fill="url(#hatch)" stroke="#d3d3d3" stroke-width="0.6" stroke-linejoin="round"/>
<path d="M743.2,360.4L744.8,360L745.4,364.4L744,365Z" fill="#2b8cbe" stroke="#2b8cbe" stroke-width="0.7" stroke-linejoin="round"/>
<path d="M766,368L769,366L770,368L767.6,370Z" fill="#7bccc4" stroke="#7bccc4" stroke-width="0.7" stroke-linejoin="round"/>
<g id="borders">
<path d="M47.4,155.6L52.4,152L60.6,146.6L63.2,150L68,151L68,153L60,156.4L57,157L54,154.4L50,154.8ZM67.6,141.6L70.4,140.4L72.8,141L70,142.4Z" fill="none" stroke="#3f5f5c" stroke-opacity="0.55" stroke-width="0.5" stroke-linejoin="round"/>
<path d="M128,145L132,146L140,144.4L148,143.6L154,144.4L158,143L164,144.4L150,143.3L152.8,144L156.4,144.4L162.8,145.4L168.1,146L169.1,148.5L172.7,149.4L178.3,150.1L185.4,148.5L191.1,149.5L196.8,149.4L199.9,150.1L204.5,147.4L203.3,144L205.5,141.2L208.8,140L211.2,141.9L210.9,145.4L213.2,148L215.5,150L218.7,151.4L223,150.1L226.5,146.6L229.3,148L228.2,151.8L224.4,154.2L221.6,157L216.6,154.2L212.3,154.2L208.1,158.9L196.8,163.8L188,168.8L189.7,173.8L195.3,175.2L199.6,178L204.5,179.4L203.1,183.7L203.8,187.2L206,188.2L208.1,186.5L209.2,182.3L208.1,179.4L213.8,178L218,174.5L219.4,169.5L220.8,163.8L221.6,161L226.5,161.7L232.2,162.7L235,166L236.4,170.9L242.1,168.1L244.6,166.7L247,174L253,180L254,186L250,188.4L242,190L234,193L228,194L220,199L224,199L230,195L232.4,198L230,202L238,201.6L240.4,204L230,208L225,208L224,204L221,203L215,206L210,208L200,209L194,211L189,213L187,208L184,202L178,197L170,194L114,194L113,190L109.6,189L111,185L109.6,182L113.6,179L113,174L112,169L109,168L104,166.6ZM106,190L109,189.4L113.6,194L112,195.6L108,193ZM103.6,182L107,181L105.6,186L103.2,185.6ZM243,196L247,190L251,189L253,192L256,195L255.6,199L252,200L250,198L247,198ZM215.9,140.5L218,137.6L223.7,136.2L229.3,136.5L235,136.9L240.7,138.3L247.8,141.9L250.9,144.7L249.2,147.5L256.3,151.4L252.3,154.6L247.8,153.2L246.3,156L247.8,158.9L243.5,162.1L240.7,159.9L235,157.9L231.5,155.6L226.5,156.8L228.6,153.9L231.5,151.9L233.9,152.5L237.1,150.7L236.7,148L232.9,147.1L231,149.1L230.1,146.1L227.2,144.7L220.8,144L217.3,143.3ZM208.8,157.5L212.3,154.2L216.6,155.1L220.1,157.5L218,158.9L213.8,158.2L210.9,159.3ZM168.4,139L172.7,137.6L180.5,138.3L186.8,137.6L192.5,136.9L195.3,138.3L193.2,140.5L196.8,144L199.6,143.3L203.1,144.7L201.7,146.6L196.8,146.6L192.5,147.4L186.8,146L178.3,146.6L169.8,146.6L168.1,144L171.3,141.9ZM159.2,139.8L162.8,136.9L167.7,135.2L174.8,134.8L180.5,136.2L178.3,137.6L172.7,137.2L168.4,138.3L164.2,141.5L160.6,141.5ZM198.9,138.3L203.8,136.2L208.8,135.9L206.7,139L203.8,140.9L201,140.5ZM175.5,131.3L182.6,128.8L189.7,128.1L188.3,130.1L196.8,130.5L200.3,132L198.2,133.4L192.5,133.4L186.8,134.4L181.2,132.7ZM193.9,127.7L199.6,126L201.7,127L196.8,128.8ZM205.3,132L210.9,130.3L213.8,131.3L218,129.8L223.7,131.3L229.3,131.3L237.8,132L239.3,133.4L235,134.4L226.5,134.4L220.8,132.7L216.6,133.8L209.5,133.4ZM208.4,125.9L212.3,124.9L215.9,126.7L212.3,127.7ZM217.7,126.7L220.8,125.9L223,127.7L219.4,129.1ZM224,125L230,122.4L236,122L240,120L254,119L266,118.4L278,119.4L270,121.6L260,124L252,127L246,130L238,131.6L230,131L228,129L232,127L226,127Z" fill="none" stroke="#3f5f5c" stroke-opacity="0.55" stroke-width="0.5" stroke-linejoin="round"/>
<path d="M321,153.6L325,151.6L332,152L338,151.4L339.2,155L336,157.6L330,158.6L324,158L322,156.4ZM106,236.4L106.4,243L108,250L111,255L115,262L116.4,260L114,253.6L111,246.4L110,240L112.4,238.4L113,241L116,250L120,258L124.4,266L124,269.6L129,274.4L136,278.4L142,281L148,280L152.4,282L152,279L155.6,277L158,274.4L162,273.6L164,270.4L166,265.6L158,267.6L154,272L149,273.6L145,271L143,266L142.4,260L144,254L142,251.4L139.4,246.4L137,243.4L131,243.4L129,239.4L120,239.4L112.4,237.6Z" fill="none" stroke="#3f5f5c" stroke-opacity="0.55" stroke-width="0.5" stroke-linejoin="round"/>
<path d="M152.4,279L155.6,277L158,274.4L162,273.6L163,277L161,280L158,284L154,283ZM162,273.6L164.4,273L164,278L162.4,279ZM161,280L164,280L171,280L173,282L169,284L165,286L162,285L160,283ZM158,284L161,283.6L163,286L159,286.4ZM163,286L169,284L173,282.4L172,288L170,293L166,292L164,289Z" fill="none" stroke="#3f5f5c" stroke-opacity="0.55" stroke-width="0.5" stroke-linejoin="round"/>
<path d="M166,292L170,293L173,297L175,300L172,300L169,296L166.4,294.4ZM173,297L176,299L180,297L184,298L185,301L182,300L179,301L178,303L175,301Z" fill="none" stroke="#3f5f5c" stroke-opacity="0.55" stroke-width="0.5" stroke-linejoin="round"/>
<path d="M186,251.6L190,251L191,253.6L188,253.6ZM186.6,256.4L188.6,256L189,259.6L187.2,260Z" fill="none" stroke="#3f5f5c" stroke-opacity="0.55" stroke-width="0.5" stroke-linejoin="round"/>
<path d="M185,273.6L188,273L190,274.4L188,275.6L185.6,275.2Z" fill="none" stroke="#3f5f5c" stroke-opacity="0.55" stroke-width="0.5" stroke-linejoin="round"/>
<path d="M193.6,273.2L196,272L198.4,270.4L198.4,274.4L195,274.4Z" fill="none" stroke="#3f5f5c" stroke-opacity="0.55" stroke-width="0.5" stroke-linejoin="round"/>
<path d="M198,270L203,269.6L207,272L207.6,273.6L203,274.4L200,275L198.4,273.6Z" fill="none" stroke="#3f5f5c" stroke-opacity="0.55" stroke-width="0.5" stroke-linejoin="round"/>
<path d="M221,293.2L223.6,293L223.6,295.6L221.2,295.6ZM184,303L190,293.6L196,291L199,289L200,291L197,294L196,299L200,302L207,304L209,310L208,317L203,318L203,325L201,332L199,328L193,327L190,323L186,320L182,318L183,312L185,307Z" fill="none" stroke="#3f5f5c" stroke-opacity="0.55" stroke-width="0.5" stroke-linejoin="round"/>
<path d="M225,300L229,303L231,307L230,311L232.4,315.6L229,317.6L225.6,317L225.6,312L223,310L222.4,305Z" fill="none" stroke="#3f5f5c" stroke-opacity="0.55" stroke-width="0.5" stroke-linejoin="round"/>
<path d="M231,307L238,306.6L238.4,312L237.4,315.6L232.4,315.6L230,311Z" fill="none" stroke="#3f5f5c" stroke-opacity="0.55" stroke-width="0.5" stroke-linejoin="round"/>
<path d="M177,322L182,318L186,320L190,323L189,327L184,330L180,334L177,332.4L176,327Z" fill="none" stroke="#3f5f5c" stroke-opacity="0.55" stroke-width="0.5" stroke-linejoin="round"/>
<path d="M176,333L180,334L184,330L189,327L190,323L193,327L199,328L201,332L195,336L193,341L196,346L202.4,349L204,351L205,360L204.4,369L202,369L189,359L182,345L175.6,336ZM203,318L208,317L210,319L215,318L214,315L216,311L221,309L223,310L225.6,312L225.6,317L229,317.6L232.4,315.6L237.4,315.6L241,316L244,312L247,316L248,321L254,323L262,328L272,330L280,335L283,340L282,346L277,354L274,359L274,368L270,380L262,384L256,388L254,395L251,402L247,408L244,405L239,400L238,398L239,394L243,389L242,382L240,382L234,380L232,373L231,366L226,364L224,357L214,353L210,348L204,351L202.4,349L196,346L193,341L195,336L201,332L203,325Z" fill="none" stroke="#3f5f5c" stroke-opacity="0.55" stroke-width="0.5" stroke-linejoin="round"/>
<path d="M204,351L210,348L214,353L224,357L226,364L231,366L232,373L227,372.4L222,374L221,380L214,379L211,381L207,371L204.4,369L205,360ZM222,374L227,372.4L232,373L234,380L240,382L242,389L239,394L235,393.6L233,389L227,384L222,381L221,380ZM204.4,369L207,371L211,381L209,386L208,406L211,430L214,440L218,454L222,456L227,458L230,460L236,464L232,465.6L224,463L217,459L212,452L209,444L208,434L205,420L204.4,400L204,380Z" fill="none" stroke="#3f5f5c" stroke-opacity="0.55" stroke-width="0.5" stroke-linejoin="round"/>
<path d="M211,381L214,379L221,380L222,381L227,384L233,389L235,393.6L239,394L238,398L236,401L235.6,410L239,412L240,417L238,422L231,424L230,429L227,430L229,433L227,435L227,439L225,442L228,444L229,447L226,449L227,455L225,457L220,455L217,448L214,438L211,430L208,406L209,386ZM227,458L229,457.6L232,460L237,463.6L236,464L230,460Z" fill="none" stroke="#3f5f5c" stroke-opacity="0.55" stroke-width="0.5" stroke-linejoin="round"/>
<path d="M236,401L239,400L244,405L247,408L245,411.6L241,413L236,410Z" fill="none" stroke="#3f5f5c" stroke-opacity="0.55" stroke-width="0.5" stroke-linejoin="round"/>
<path d="M435,244.5L438.5,249.5" fill="none" stroke="#3f5f5c" stroke-opacity="0.55" stroke-width="0.5" stroke-linejoin="round"/>
<path d="M335,249L341,241L343,235L351,229L358,230L359.4,237L353,241L347,245L344,249L343,251Z" fill="none" stroke="#3f5f5c" stroke-opacity="0.55" stroke-width="0.5" stroke-linejoin="round"/>
<path d="M344,249L347,245L353,241L359.4,237L358,230L363,227L373,225.4L380,226L381,233L379.4,235L384,242L384.6,253L388,260L389,261L383,265L373,271L369,269L350,256L344,251Z" fill="none" stroke="#3f5f5c" stroke-opacity="0.55" stroke-width="0.5" stroke-linejoin="round"/>
<path d="M380,226L384,224L386.6,227L385,230L387.4,234L386,238L384,242L379.4,235L381,233Z" fill="none" stroke="#3f5f5c" stroke-opacity="0.55" stroke-width="0.5" stroke-linejoin="round"/>
<path d="M384,242L386,238L387.4,235L395,237L403,240L409,236L415,236.6L418,240L418.6,248L419,270L416,269L397,261L389,261L388,260L384.6,253Z" fill="none" stroke="#3f5f5c" stroke-opacity="0.55" stroke-width="0.5" stroke-linejoin="round"/>
<path d="M418,240L419.4,239.4L420,239.5L426,240.5L430,239.5L435,240L439,239L440,242.5L440.5,245L439.5,248.5L438.5,249.5L442.5,255L445,261L446.2,264.5L419.4,264.4L418.6,248Z" fill="none" stroke="#3f5f5c" stroke-opacity="0.55" stroke-width="0.5" stroke-linejoin="round"/>
<path d="M325,267L328,266L333,263L336,260L337,254L343,254L343,251L344,251L350,256L351,281L341,281L335,282L332,279L326,279L327,273Z" fill="none" stroke="#3f5f5c" stroke-opacity="0.55" stroke-width="0.5" stroke-linejoin="round"/>
<path d="M350,256L369,269L373,271L372,280L368,282L361,283L358,286L355,288L352,294L345,294L343,289L337,288L335,283L335,282L341,281L351,281Z" fill="none" stroke="#3f5f5c" stroke-opacity="0.55" stroke-width="0.5" stroke-linejoin="round"/>
<path d="M373,271L383,265L389,261L397,261L398,269L396,279L394,285L391,287L381,286L373,286L369,289L365,287L364,284L368,282L372,280ZM397,261L416,269L419,270L419,276L415,283L414,289L417,294L411,299L403,301L399,299L398,294L396.6,292L395,288L394,285L396,279L398,269Z" fill="none" stroke="#3f5f5c" stroke-opacity="0.55" stroke-width="0.5" stroke-linejoin="round"/>
<path d="M419.4,264.4L446.2,264.5L447,269L449,273L450,275.5L448,277L446.5,281L445,284L443,291L440,295L437,291L433,296L427,297L423,295L419,299L417,294L414,289L415,283L419,276L419,270Z" fill="none" stroke="#3f5f5c" stroke-opacity="0.55" stroke-width="0.5" stroke-linejoin="round"/>
<path d="M445,284L448,284L453,284L459,290L462,294L460,297L473,301L465,308L457,312L451,311L446,308L443,304L440,301L440,295L443,291ZM459,290L462,291L462,294Z" fill="none" stroke="#3f5f5c" stroke-opacity="0.55" stroke-width="0.5" stroke-linejoin="round"/>
<path d="M419,299L423,295L427,297L433,296L437,291L440,295L440,301L443,304L444,309L439,311L433,312L428,309L424,309L421,304Z" fill="none" stroke="#3f5f5c" stroke-opacity="0.55" stroke-width="0.5" stroke-linejoin="round"/>
<path d="M394,293L396.6,292L398,294L399,299L397,306L398,311L399,315L392,315L385,315L384,311L383,307L388,304L391,299Z" fill="none" stroke="#3f5f5c" stroke-opacity="0.55" stroke-width="0.5" stroke-linejoin="round"/>
<path d="M371,288L373,286L381,286L391,287L394,285L395,288L396.6,292L394,293L391,299L388,304L383,307L379,310L374,309L373,306L369,305L370,295L371,293Z" fill="none" stroke="#3f5f5c" stroke-opacity="0.55" stroke-width="0.5" stroke-linejoin="round"/>
<path d="M365,291L369,290L371,293L370,295L369,305L366.6,305.4L366,297Z" fill="none" stroke="#3f5f5c" stroke-opacity="0.55" stroke-width="0.5" stroke-linejoin="round"/>
<path d="M363.6,293.4L365,291L366,297L366.6,305.4L364.6,306L364,299Z" fill="none" stroke="#3f5f5c" stroke-opacity="0.55" stroke-width="0.5" stroke-linejoin="round"/>
<path d="M356,294L363.6,293.4L364,299L364.6,306L360,308.6L356,308L356,301Z" fill="none" stroke="#3f5f5c" stroke-opacity="0.55" stroke-width="0.5" stroke-linejoin="round"/>
<path d="M352,294L355,288L358,286L361,283L364,284L365,287L369,289L369,290L365,291L363.6,293.4L356,294Z" fill="none" stroke="#3f5f5c" stroke-opacity="0.55" stroke-width="0.5" stroke-linejoin="round"/>
<path d="M345,294L352,294L356,294L356,301L356,308L350,309L345,310L344.6,305L343,301Z" fill="none" stroke="#3f5f5c" stroke-opacity="0.55" stroke-width="0.5" stroke-linejoin="round"/>
<path d="M338,301L342,300L343,301L344.6,305L345,310L340,307Z" fill="none" stroke="#3f5f5c" stroke-opacity="0.55" stroke-width="0.5" stroke-linejoin="round"/>
<path d="M333,297L336,295L339,297L338.6,301L338,301L336,304L333.4,301Z" fill="none" stroke="#3f5f5c" stroke-opacity="0.55" stroke-width="0.5" stroke-linejoin="round"/>
<path d="M329,292L334,290L337,288L343,289L345,294L343,301L342,300L339,297L336,295L333,297L330,295Z" fill="none" stroke="#3f5f5c" stroke-opacity="0.55" stroke-width="0.5" stroke-linejoin="round"/>
<path d="M325,290L329,289.4L330,292L329,292L327,293.4ZM324,281L326,279L332,279L335,282L335,283L337,288L334,290L329,289.4L325,290L323.4,285Z" fill="none" stroke="#3f5f5c" stroke-opacity="0.55" stroke-width="0.5" stroke-linejoin="round"/>
<path d="M384.6,315.2L388.2,315.2L388.2,318.4L384.6,318.4ZM395,317L399,315L403,313L405,314L404,317L401,323L399,329L395,333L391,333L389,330L392,329L395,324Z" fill="none" stroke="#3f5f5c" stroke-opacity="0.55" stroke-width="0.5" stroke-linejoin="round"/>
<path d="M403,313L407,309L412,309L417,308L424,309L428,309L433,312L432,319L430,325L431,330L430,335L433,343L429,345L429,353L431,355L428,356L425,353L418,351L417,355L414,350L413,342L408,341L403,343L398,337L392,337L391,333L395,333L399,329L401,323L404,317L405,314Z" fill="none" stroke="#3f5f5c" stroke-opacity="0.55" stroke-width="0.5" stroke-linejoin="round"/>
<path d="M392,337L398,337L403,343L408,341L413,342L414,350L418,351L417,355L413,356L413,362L415,367L409,368L396,367L390,366.6L391,360L394,352L393,343ZM389.4,332L391.4,333L391,335.6Z" fill="none" stroke="#3f5f5c" stroke-opacity="0.55" stroke-width="0.5" stroke-linejoin="round"/>
<path d="M417,355L418,351L425,353L428,356L431,355L429,353L429,345L433,343L438,346L439,353L437,359L433,360L429,363L425,367L421,368L415,367L413,362L413,356ZM432,325L442,325L454,333L453,338L455,349L449,352L443,352.4L440,348L438,346L433,343L430,335L431,330ZM443,313L443,309L446,308L451,311L457,312L458,313L458,327L454,333L442,325L442,319Z" fill="none" stroke="#3f5f5c" stroke-opacity="0.55" stroke-width="0.5" stroke-linejoin="round"/>
<path d="M433,312L439,311L443,313L442,319L442,325L432,325L432,319Z" fill="none" stroke="#3f5f5c" stroke-opacity="0.55" stroke-width="0.5" stroke-linejoin="round"/>
<path d="M430,325L432,325L432.6,330L431,333L430,330Z" fill="none" stroke="#3f5f5c" stroke-opacity="0.55" stroke-width="0.5" stroke-linejoin="round"/>
<path d="M438,346L440,348L443,352.4L444,360L442.6,365L440.6,360L439,353Z" fill="none" stroke="#3f5f5c" stroke-opacity="0.55" stroke-width="0.5" stroke-linejoin="round"/>
<path d="M443,352.4L449,352L455,349L456,360L451,367L446,371L442,376L443,384L439,388L436,389L434,386L434,380L436,375L438,369L437,364L433,360L437,359L439,353L440.6,360L442.6,365L444,360Z" fill="none" stroke="#3f5f5c" stroke-opacity="0.55" stroke-width="0.5" stroke-linejoin="round"/>
<path d="M425,367L429,363L433,360L437,364L438,369L436,375L434,380L428,379L422,373L421,368Z" fill="none" stroke="#3f5f5c" stroke-opacity="0.55" stroke-width="0.5" stroke-linejoin="round"/>
<path d="M411,369L415,368L421,368L422,373L428,379L424,383L420,388L415,388L411,392L408.6,388L408,381L410.6,380Z" fill="none" stroke="#3f5f5c" stroke-opacity="0.55" stroke-width="0.5" stroke-linejoin="round"/>
<path d="M390,366.6L396,367L409,368L415,367L415,368L411,369L410.6,380L408,381L408.6,388L408,394L405,397L400,396L396,384L392,375ZM400,396L405,397L408,394L408.6,388L411,392L415,388L420,388L424,383L428,379L434,380L434,386L436,389L435,394L431,401L423,409L413,411L405,412.4L402.6,409L403,404Z" fill="none" stroke="#3f5f5c" stroke-opacity="0.55" stroke-width="0.5" stroke-linejoin="round"/>
<path d="M423,399L426,396.6L428,398.4L425,401.6ZM431.6,389.4L434.4,389L434.6,392.4L432,392.8Z" fill="none" stroke="#3f5f5c" stroke-opacity="0.55" stroke-width="0.5" stroke-linejoin="round"/>
<path d="M461,379L464,366L470,361L475,354L478,357L477,365L473,378L469,387L465,388.6L462,386Z" fill="none" stroke="#3f5f5c" stroke-opacity="0.55" stroke-width="0.5" stroke-linejoin="round"/>
<path d="M492.4,373.8L494.2,373.6L494.6,375.4L492.8,375.8Z" fill="none" stroke="#3f5f5c" stroke-opacity="0.55" stroke-width="0.5" stroke-linejoin="round"/>
<path d="M412,146L418,144L426,146L431,148L433,152L426,153L422,152L425,156L431,154.6L437,151L436,148L441,147.4L443,150L452,147L458,146L464,146.6L466,145L475,147L478,147.6L473,144L473,139L477,138L480,142L482,145L485,148L488,152L490,150L488,147L485,143L483,139L488,140.6L492,137L498,135L504,132L512,131L520,128.6L528,130L536,132L539,135L548,136L550,136.6L558,137.4L564,136.6L570,139.4L577,141.4L587,140.6L590,138L598,139.4L608,141L618,142L626,143L632,145L640,145.4L648,147L646,144.6L654,144L664,146L670,150L678,155L686,161.4L680,162L676,167L671,167.4L666,168L670,172L674,176L675,181L674.4,188L669,184L663,178L659,173L661,165L658,162L656,165L648,164L649,169L644,168.6L636,169.4L628,170L624.4,180L632,182L639,181L644,186L645.6,193L646,201L644,207L641,210L638,209L637,203L638,197L632,198L626,195L618,191L610,187L604,183L600,184L601,190L598,192L586,193L576,191L568,192L560,188L558,191L550,191L548,190L540,194L534,190L525,189L519,186L513,181L505,182L497,178.6L489,180.6L483,183L484,189L473,189L463,188L458,191L458.4,195L461,202L460,207L464,214L460,214L456,213L452.6,212.4L450.3,210.6L447.9,207.1L442.1,204.1L440.3,202.6L442.6,200.6L439.7,199.4L442.6,198.2L443.8,195.3L442.6,192.9L437.4,190.8L432.6,188.8L429.7,185.9L425.6,186.5L426.2,183.5L424.4,180.6L420.9,177.6L416.2,177.1L415.6,174.7L415.9,171.8L415.6,168.8L415.5,165.5L417.9,163.3L419.3,160.8L417.9,157.7L416,153.4L414.6,149.2L412.6,147.8L412.2,145.2L414.6,144.6ZM447,138L449,134L456,131L467,129.4L460,132L454,135L452.4,139L457,143L451,142ZM427,122.6L433,122L435.6,123L430,124ZM493,122.6L500,122L508,124.6L504,126L497,125ZM510,125L517,126L516,127.4L511,126.6ZM574,131.6L580,131L587,132.6L580,134ZM589,132.6L597,133L596,134.2L590,133.6ZM586,136L591,136.6L590,138ZM655,141L658,142L657,143ZM640,182L644,185L650,191L654,194L651,193L656,200L652,198L646,190L641,185ZM401.6,179.2L405.8,179.6L405.6,181L401.9,180.6Z" fill="none" stroke="#3f5f5c" stroke-opacity="0.55" stroke-width="0.5" stroke-linejoin="round"/>
<path d="M366.8,190.4L368.5,188.8L371.5,185.3L373.8,183.3L376.8,182.9L378.5,178.8L379.1,174.7L381.5,173.2L383.2,173.9L382.6,177.6L381.5,179.4L383.2,180.9L385,181.8L390.3,181.8L395,180.2L401.5,180L405,179.1L403.8,177.6L403.2,174.1L405,171.8L406.8,172.7L407.9,171.2L406.8,169.4L411.5,168.5L415.6,168.8L415.9,171.8L415.6,174.7L416.2,177.1L420.9,177.6L424.4,180.6L426.2,183.5L425.6,186.5L429.7,185.9L432.6,188.8L437.4,190.8L442.6,192.9L443.8,195.3L442.6,198.2L439.7,199.4L436.2,200L435.6,200L432.6,200.6L429.1,201.2L425.6,200.6L424.4,202.4L422.6,204.1L421.5,207.1L420.9,210L420.9,213.2L419.1,214.7L417.9,213.5L416.2,215.1L413.8,214.7L411.5,215.9L412.6,218.8L411.5,220L413.8,223.5L412.6,225.3L410.3,222.4L407.9,220L405.8,217.6L404.4,216.5L404.2,213.5L402.1,210.8L400.3,209.4L399.1,209.4L395.6,206.5L393.8,204.1L394.4,201.8L392.1,201.8L389.7,202.9L388.5,205.3L390.3,208.2L393.8,211.8L397.9,214.7L401.5,216.5L400.3,218.2L398.5,217.1L399.7,220L397.9,221.8L396.2,218.8L396.8,216.5L392.6,213.5L387.9,210L384.4,206.5L380.3,205.3L378.5,206.5L377.4,208.2L372.6,209.4L366.8,210L364.4,211.2L369,212.6L365.5,215.5L362.6,218.3L361.9,222.5L357.7,224.7L352,227.5L349.9,226.1L347,224.7L344.2,225L342.8,219.7L343.8,215.5L343.8,211.2L343.5,208.8L353.4,208L360.5,208.8L359.8,203.1L356.3,198.2L354.1,196.1L356.3,195.2L359.8,194.6L363.3,191.8L365.5,190.7ZM432.1,200.5L435.6,199.8L437.9,200.1L440.9,201.2L442.3,202.4L439.9,202.6L438.5,203.8L436.4,203.3L434.4,202.1Z" fill="none" stroke="#3f5f5c" stroke-opacity="0.55" stroke-width="0.5" stroke-linejoin="round"/>
<path d="M343.8,211.2L349.2,211.9L348.5,217.6L347,224.7L344.2,225L342.8,219.7L343.8,215.5Z" fill="none" stroke="#3f5f5c" stroke-opacity="0.55" stroke-width="0.5" stroke-linejoin="round"/>
<path d="M371.5,185.3L373.8,183.3L376.8,182.9L376.2,185.9L375,188.2L373.2,188.8L371.5,188.2ZM378.5,178.8L379.1,174.7L381.5,173.2L383.2,173.9L382.6,177.6L381.5,179.4ZM383.8,177.4L386.2,177.1L386.5,178.8L384.6,179.4ZM372.1,162.6L374,160.5L377.5,158.4L381.8,156.3L384.6,152.7L388.1,149.2L391.7,146.6L397.3,143.8L403,141.8L408.7,141.4L412.9,142.4L414.6,144.6L412.2,145.2L409.4,143.8L405.8,144.6L403.7,146.1L401.6,147.5L397.3,148L393.1,148.6L391,151.3L388.1,154.1L384.9,157.7L385.3,163.3L383.9,168.3L382,170.1L378.9,171.1L375.4,171.6L373,169ZM393.1,148.6L397.3,148L401.6,147.5L403.7,146.1L404.7,149.9L403.3,153.1L400.5,154.8L397.3,157.7L395.2,161.2L395.6,164.8L397.3,167.3L395.2,171.1L393.4,176.1L391,177.8L388.6,177.2L386.3,174L383.9,168.3L385.3,163.3L384.9,157.7L388.1,154.1L391,151.3ZM403.7,146.1L405.8,144.6L409.4,143.8L412.2,145.2L412.6,147.8L414.6,149.2L416,153.4L417.9,157.7L419.3,160.8L417.9,163.3L415.5,165.5L410.8,166.5L405.8,166.9L403,164L401.9,161.2L403.3,157.7L405.8,154.8L405.1,153.1L404.7,149.9ZM403.8,177.6L406.8,175.9L410.9,176.2L413.8,177.6L412.6,180.6L409.7,182.4L406.8,181.2L405.6,179.4Z" fill="none" stroke="#3f5f5c" stroke-opacity="0.55" stroke-width="0.5" stroke-linejoin="round"/>
<path d="M401.5,180L405,179.1L405.6,180.2L406.8,181.2L404.4,180.9Z" fill="none" stroke="#3f5f5c" stroke-opacity="0.55" stroke-width="0.5" stroke-linejoin="round"/>
<path d="M343.5,183.9L344.9,181L348.5,179.2L349.2,181.5L351.7,183.2L349.9,186L345.6,187.4L343.2,186.7Z" fill="none" stroke="#3f5f5c" stroke-opacity="0.55" stroke-width="0.5" stroke-linejoin="round"/>
<path d="M348.5,179.2L351.3,178.9L352,181L349.2,181.5ZM351.3,173.3L353.4,170.4L357,170.4L358.4,172.5L356.3,174.7L359.1,177.5L360.5,181.8L364,183.9L366.2,186.7L364.8,188.8L360.5,190L356.3,190.5L352,191.4L354.1,188.8L356.3,186.7L353.4,184.6L354.8,181L352.7,177.5Z" fill="none" stroke="#3f5f5c" stroke-opacity="0.55" stroke-width="0.5" stroke-linejoin="round"/>
<path d="M383.8,198.2L386.8,197.1L389.7,196.5L390.9,194.7L392.6,195.3L396.2,194.7L397.4,195.9L396.8,198.2L395,199.4L391.5,200L387.9,199.4L385.8,198.8ZM394.4,201.8L396.2,200.6L398.5,201.8L401.5,202.1L402.1,203.5L399.7,203.8L396.8,203.8L395.6,204.5L397.4,206.5L400.3,209.4L399.1,209.4L395.6,206.5L393.8,204.1Z" fill="none" stroke="#3f5f5c" stroke-opacity="0.55" stroke-width="0.5" stroke-linejoin="round"/>
<path d="M404.2,213.5L405.8,212.4L406.8,214.7L405.8,217.6L404.4,216.5ZM405,210.4L407.4,209.6L408.2,211.5L406.5,212.6L405,212Z" fill="none" stroke="#3f5f5c" stroke-opacity="0.55" stroke-width="0.5" stroke-linejoin="round"/>
<path d="M381,210.2L382.5,209.8L382.9,213.1L381.8,214ZM380.6,215.5L383.2,214.8L383.6,219.7L381,220.1ZM389.5,223L395.2,222.1L395.9,224L394.5,225.8L391,225ZM413.6,228.9L419.7,229.6L419.7,230.6L414.3,230.3ZM433,230L436.5,228.8L438.5,228.5L436.5,230.5L434.5,231.2Z" fill="none" stroke="#3f5f5c" stroke-opacity="0.55" stroke-width="0.5" stroke-linejoin="round"/>
<path d="M378.4,124.7L388.2,122.9L401.7,124L395.3,127.5L392.5,130L384.7,128.9Z" fill="none" stroke="#3f5f5c" stroke-opacity="0.55" stroke-width="0.5" stroke-linejoin="round"/>
<path d="M376.8,182.9L376.2,185.9L375,188.2L375.6,189.4L376.2,192.9L378.5,194.7L377.4,197.1L375.6,199.4L376.8,202.4L376.2,205.3L378.5,206.5M368.5,188.8L370.9,191.2L373.8,192.4L376.2,192.9M371.5,188.2L373.2,188.8L375,188.2M378.5,178.8L381.5,179.4M390.3,181.8L391.5,184.7L390.9,188.2L392.1,190M392.1,190L389.1,190.8L387.9,192.4L390.9,194.7L389.7,196.5L386.8,197.1L383.8,198.2L380.3,197.6L377.4,197.1M376.8,202.4L378.5,201.8L381.5,201.2L384.4,200.6L385.8,198.8L383.8,198.2M385.8,198.8L387.9,199.4L391.5,200M392.1,190L393.8,189.4L396.8,190L400.3,191.8M390.9,194.7L392.6,195.3L396.2,194.7L399.1,193.5L400.3,191.8L404.4,192.4L407.4,192.9L409.7,191.2M396.2,194.7L397.4,195.9L399.1,196.5L402.6,195.9L406.8,195.3L408.5,194.7L407.4,192.9M397.4,195.9L396.8,198.2L396.2,200L398.5,201.8L401.5,202.1L405.6,201.2L407.4,198.8L409.1,196.5L408.5,194.7M391.5,200L392.1,201.8L394.4,201.8L396.2,200.6L395,199.4M396.8,203.8L399.7,203.8L402.1,203.5L403.2,206.5L402.1,208.8L400.3,209.4M402.1,203.5L401.5,202.1M405.6,201.2L407.9,203.5L410.3,205.3L410.9,207.6L409.7,209.4L407.4,210.6L405.6,209.4L403.2,206.5M409.1,196.5L412.6,195.3L417.4,195.1L420.3,197.6L422.6,200.6L424.4,202.4M410.9,207.6L415,207.1L419.1,206.5L421.5,207.1M417.4,195.1L419.1,195.3L421.5,197.6L423.2,200.6M409.7,209.4L410.9,210.6L412.6,212.7L416.2,212.9L419.1,211.8L420.9,210M409.7,191.2L410.3,188.2L415,187.6L419.7,188.2L423.8,188.2L425.6,186.5M409.7,182.4L409.1,185.3L410.3,188.2M409.7,182.4L412.6,180.6L413.8,177.6L416.2,177.1M403.2,174.1L406.8,172.7L411.5,173.5L415.6,174.7M406.8,181.2L409.7,182.4M405.8,217.6L406.8,214.7L408.5,214.7L410.9,213.5L412.6,212.7M406.8,212.4L409.7,211.8L410.9,213.5M390.3,181.8L395,180.2L401.5,180M402.1,208.8L404.2,213.5M405.6,209.4L405,212M407.4,210.6L406.8,212.4M360.5,208.8L368.3,211.2" fill="none" stroke="#3f5f5c" stroke-opacity="0.55" stroke-width="0.5" stroke-linejoin="round"/>
<path d="M420.9,219.4L420.3,217.6L423.2,215.3L427.9,213.5L433.8,212.4L439.7,214.1L446.8,215.3L450,214L456,215.6L460,213L462,218L458,221L460,227L457,225L452,226L445,226L442,228L444.4,227.1L439.7,225.9L436.2,227.1L431.5,226.5L427.9,225.9L424.4,224.1L422.1,221.8ZM416.2,212.9L419.1,211.8L420.9,213.2L419.1,214.7L417.9,213.5ZM450,209L456,210L460,212L463,214L460,213L456,215.6L452,213Z" fill="none" stroke="#3f5f5c" stroke-opacity="0.55" stroke-width="0.5" stroke-linejoin="round"/>
<path d="M460,213L463,214.4L465.6,218L463.6,220L462,218ZM463,214L467,213L470,218L467,219L465.6,218L463,214.4Z" fill="none" stroke="#3f5f5c" stroke-opacity="0.55" stroke-width="0.5" stroke-linejoin="round"/>
<path d="M458,196L457,192L462,188L472,189L483,189L482,183L488,180.4L496,178.4L504,182L512,181L518,186L524,189L533,190L539,193.6L534,198L532,203L529,204L530,209L524,210L516,209.4L512,211L507,213L504,211L499,208L494,208L488,204L482,203L479,205L479,210L475,211L472,207L469,205.6L470,202L467,200L463,201L460,205L458,200Z" fill="none" stroke="#3f5f5c" stroke-opacity="0.55" stroke-width="0.5" stroke-linejoin="round"/>
<path d="M479,205L482,203L488,204L494,208L499,208L504,211L507,213L512,211L516,213L514,216L510,215L508,219L509,223.6L506,223L502,219L496,215L490,212L485,211L482,213L479.6,211L479,210Z" fill="none" stroke="#3f5f5c" stroke-opacity="0.55" stroke-width="0.5" stroke-linejoin="round"/>
<path d="M512,211L516,209.4L524,210L530,209L532,211L526,215L521,215L518,217L514,216L516,213ZM510,215L514,216L518,217L521,218L522,223L518,223L515,221.6L512,223.6L509,223.6L508,219Z" fill="none" stroke="#3f5f5c" stroke-opacity="0.55" stroke-width="0.5" stroke-linejoin="round"/>
<path d="M496,230L500,228L504,226L506,223L509,223.6L512,223.6L515,221.6L518,223L522,223L524,224L519,226L517,232L514,238L510,243L506,244.4L500,244L499,239L496,236Z" fill="none" stroke="#3f5f5c" stroke-opacity="0.55" stroke-width="0.5" stroke-linejoin="round"/>
<path d="M500,244L506,244.4L510,243L514,238L517,232L519,226L524,224L528,226L531,230L526,232L528,237L526,243L523,249L520,252L522,257L516,258L513,255L501,255.6L503,251L505,248Z" fill="none" stroke="#3f5f5c" stroke-opacity="0.55" stroke-width="0.5" stroke-linejoin="round"/>
<path d="M458,221L462,218L467,219L470,224L475,225.6L482,223L488,220L490,221L496,225L500,228L496,230L496,236L499,239L500,244L505,248L503,251L501,255.6L492,254L489,251L482,253L477,247L472,243L469,244L467,240L462,234L463,228L460,227Z" fill="none" stroke="#3f5f5c" stroke-opacity="0.55" stroke-width="0.5" stroke-linejoin="round"/>
<path d="M452,225L459,224.5L462.5,226.5L463.5,231L467.5,235L469.5,241L469.8,243.5L467.5,244L466.5,245.8L463,246L458,243.5L453,240.5L449,238.5L449.5,238L449,235.5L452,232L453,229Z" fill="none" stroke="#3f5f5c" stroke-opacity="0.55" stroke-width="0.5" stroke-linejoin="round"/>
<path d="M440.5,232L442.5,231.5L442,234L440.8,234.5ZM441.5,237.5L443.5,238L449,235.5L449.5,238L449,238.5L446,239L442.5,243L440.5,246.5L440,244.5L441,241Z" fill="none" stroke="#3f5f5c" stroke-opacity="0.55" stroke-width="0.5" stroke-linejoin="round"/>
<path d="M439.5,235L441.5,234.5L441.5,237.5L441,241L440,244.5L439.2,240Z" fill="none" stroke="#3f5f5c" stroke-opacity="0.55" stroke-width="0.5" stroke-linejoin="round"/>
<path d="M440.5,246.5L442.5,243L446,239L449,238.5L453,240.5L458,243.5L463,246L466.5,245.8L469,247L470.5,246.5L472,249L475,252.5L477.5,256L478.5,258.5L480,260L484,262L486.8,263.2L488.5,264L488,268L486,270L481,272L476,274L470.5,277L465,276L460.5,278.5L459,274.5L456,270L453,266.5L450.5,262L447,257L443.5,252L440.5,249ZM466.5,245.8L467.5,244L469.8,243.5L470.5,246.5L469,247ZM476,253.5L477.5,254L478,257L476.5,257.5ZM480,260L484,259L486,259.5L488.5,254L489.5,253.5L489,259L486.8,263.2L484,262ZM489.5,253.5L490,257L494,259L498,263L496,266L494,271L489,276L484,278L481.5,274L481,272L486,270L488,268L488.5,264L486.8,263.2L489,259Z" fill="none" stroke="#3f5f5c" stroke-opacity="0.55" stroke-width="0.5" stroke-linejoin="round"/>
<path d="M526,232L531,230L534,234L536,240L541,245L546,247L554,250L560,251L561,249L568,249L574,246L579.4,247.6L578,251.2L576,256.2L573.8,260.4L572.8,263.2L571.2,264.6L568,264.4L564,263.6L561,265L558,266L550,274L546,282L546,290L541,300L537,294L533,284L528,268L522,264L518,260L522,257L520,252L523,249L526,243L528,237ZM541,243.6L544,242.4L552,246L560,248.4L560,251L554,250L546,247ZM562,248.4L568,248L568,250L562.4,250.4Z" fill="none" stroke="#3f5f5c" stroke-opacity="0.55" stroke-width="0.5" stroke-linejoin="round"/>
<path d="M561,254L566,255L570,259L571,264L568,264L564,263L562,258Z" fill="none" stroke="#3f5f5c" stroke-opacity="0.55" stroke-width="0.5" stroke-linejoin="round"/>
<path d="M579.1,247.7L582,249.1L583.4,254.8L586.2,259.8L590.5,265.4L587.6,268.3L584.8,271.1L586.9,276.8L589,282.4L590.5,288.1L591.5,292.3L590,293.8L589,289.5L587.6,284.5L585.5,278.2L581.3,280.3L577.7,279.6L576.3,272.5L573.5,268.3L572.5,263.3L573.5,260.5L575.6,256.2L577.7,251.3Z" fill="none" stroke="#3f5f5c" stroke-opacity="0.55" stroke-width="0.5" stroke-linejoin="round"/>
<path d="M539,193.6L546,190L558,191L560,188L570,190L578,192L588,192.4L597,191L600,196L608,199L603,202L598,203L595,207L592,210L584,213L574,211L562,209L552,204L546,198Z" fill="none" stroke="#3f5f5c" stroke-opacity="0.55" stroke-width="0.5" stroke-linejoin="round"/>
<path d="M532,211L529,204L532,203L534,198L539,193.6L546,198L552,204L562,209L574,211L584,213L592,210L595,207L598,203L603,202L608,199L600,196L599,191L601,184L608,183L614,187L620,192L628,195L636,196L637,203L635,206L638,210L633,213L629,216L624,220L620,217L615,221L620,224L626,223L624,227L629,234L633,240L634,247L632,254L626,260L620,264L614,266L610,268L605,267L601,262L595,263L590,266L586,262L584,256L582,250L579,249L579,248L574,246L568,249L561,249L560,248.4L552,246L544,242.4L541,243.6L536,240L534,234L531,230L528,226L524,224L522,223L521,218L518,217L521,215L526,215ZM609.6,271.1L612.4,269.7L614.5,271.1L613.6,273.6L610.7,273.9Z" fill="none" stroke="#3f5f5c" stroke-opacity="0.55" stroke-width="0.5" stroke-linejoin="round"/>
<path d="M634,223L639,221.6L643,226L642,231L638,231.6L635.6,228Z" fill="none" stroke="#3f5f5c" stroke-opacity="0.55" stroke-width="0.5" stroke-linejoin="round"/>
<path d="M656,204L660,207L666,207L664,211L659,213L656,210ZM660,215L663,214L666,220L668,228L665,231L659,233L654,236L648,235L650,230L656,229L660,224ZM647,234L651,236L652,240L649,239Z" fill="none" stroke="#3f5f5c" stroke-opacity="0.55" stroke-width="0.5" stroke-linejoin="round"/>
<path d="M584.8,271.1L587.6,268.3L590.5,269.7L592.6,275.3L597.5,276L601.1,278.2L603.2,282.4L600.4,284.5L597.5,286L597.1,288.8L594,287.4L591.9,289.5L590.5,294.5L589,298L590.5,300.8L594,303.7L592.9,305.1L589.8,302.3L588.3,298L590,293.8L591.5,292.3L590.5,288.1L589,282.4L586.9,276.8ZM590.5,300.8L594,303.7L597.5,305.8L600.4,309.3L601.4,313.6L603,318L600,317L596,313L594,309.3L592.9,305.1Z" fill="none" stroke="#3f5f5c" stroke-opacity="0.55" stroke-width="0.5" stroke-linejoin="round"/>
<path d="M590.5,265.4L594.7,262.6L601.1,261.9L602.5,264.7L600.4,267.5L604.6,271.8L608.9,278.9L609.6,283.1L607.5,284.5L603.9,283.8L603.2,282.4L601.1,278.2L597.5,276L592.6,275.3L590.5,269.7L587.6,268.3ZM601.1,261.9L605.3,264L608.9,266.8L606.8,269L604.6,271.1L607.5,275.3L611.7,282.4L613.8,286.7L613.6,290.9L609.6,294.5L605.3,298.7L603.9,295.9L607.5,293L609.6,289.5L609.6,283.1L608.9,278.9L604.6,271.8L600.4,267.5L602.5,264.7ZM597.5,286L600.4,284.5L603.2,282.4L603.9,283.8L607.5,284.5L609.6,283.1L609.6,289.5L607.5,293L603.2,293.8L599,290.9L597.1,288.8ZM582,308L587,307.6L594,314L600,321L606,328L607.6,336L605,337L600,332L594,325L589,317L584,311ZM606,338L612,338L620,340L628,343L627,345L618,343.6L610,341.6L605.6,340ZM631,344L636,343.6L636,345.6L631.6,345.6ZM639,344L645,343.6L644,345.6L639,345.6ZM637,347L640,347L639,348.6ZM646,347L650,344.4L655.6,343L656,344.4L652,346.4L648,348.4Z" fill="none" stroke="#3f5f5c" stroke-opacity="0.55" stroke-width="0.5" stroke-linejoin="round"/>
<path d="M616,317L622,315L627,310L630,305L633,304L637,307L635,310L631,311L628,313L624,317L619,319.6L616.4,319Z" fill="none" stroke="#3f5f5c" stroke-opacity="0.55" stroke-width="0.5" stroke-linejoin="round"/>
<path d="M614.4,319L616.4,319L619,319.6L624,317L628,313L631,311L635,310L634.4,314L636,319L633,324L630,332L626,331L621,330L617,328L614.4,323ZM639,320L643,318L649,318L652,317.6L650,321L644,321L642,323L647,324L645,327L643,328L646,334L645,336L642,332L641,336L638.4,336L637.6,329L639,324ZM657,317L659.4,316.4L660,321L659,323.6L657.6,322ZM654,330L657,329.6L656.6,331.2ZM658.6,329.6L664,329L665,331L660,331.2ZM637,274L640,273L642,277L641,283L644,285L647,284L650,289L651,293L649,294L647,291L645,290L642,289L640,289L639,284L637,280ZM644,301L649,300L652,297L654,302L653.6,306L651,307L649,304L645,303ZM632.4,299L637,292.4L638,293.6L634,300ZM642,292L645,291L647,295L645,297L643,295ZM664,324L668,322.6L672,324L673,328L678,327L682,326L688,328.4L687,345L682,344L679,343L681,339L676,334L672,332L669,329L667,327Z" fill="none" stroke="#3f5f5c" stroke-opacity="0.55" stroke-width="0.5" stroke-linejoin="round"/>
<path d="M688,328.4L694,331L700,336L703.6,339L702,341L703,344L708,348L709,349.6L704,349L698,343L694,343L691,345L687,345ZM704,336L710,334.4L714,330L712,328L715,330L715.6,333.6L711,337L706,338ZM718.4,335L721,337L723,340L721,339.6L719,337ZM727,340.4L730,342L729,343.6ZM732,343L734.4,345.6L733.6,347Z" fill="none" stroke="#3f5f5c" stroke-opacity="0.55" stroke-width="0.5" stroke-linejoin="round"/>
<path d="M614,410L617,403L618,396L616.4,390L619,382L621,379L626,376L634,374L640,370L643,365L647,362L652,358.4L657,359L660,355L665,351.6L668,353L672,352.4L676,354L673.6,358L673,361L678,364L682,368L685,365L687,358L689.6,350L691.6,353L693,359L695.6,364L696,370L700,376L703,382L705.6,388L705,395L702,401L698,406L693,411L688,417L684,420L680,422L675.6,423.6L673,421L669,423L665,420L664,416L662,412L664.4,408.4L660,412L657,408L653,405L648,404.4L640,406L634,409L630,411L624,410.4L619,413L616,413ZM669,428.4L673,429L677,428.4L675.6,431.6L672,434.4L668,435.6L667.6,432Z" fill="none" stroke="#3f5f5c" stroke-opacity="0.55" stroke-width="0.5" stroke-linejoin="round"/>
<path d="M739,412.4L741,412L742,417L744.4,420L747,420.4L744,423.6L740,426.4L737,428.4L733,430.4L732.4,428L736,425L738.6,421L739,417ZM730,428L731,430L726,434L720,438L713,442L708,443.6L705,442L709,439L717,435L724,431Z" fill="none" stroke="#3f5f5c" stroke-opacity="0.55" stroke-width="0.5" stroke-linejoin="round"/>
<path d="M743.2,360.4L744.8,360L745.4,364.4L744,365Z" fill="none" stroke="#3f5f5c" stroke-opacity="0.55" stroke-width="0.5" stroke-linejoin="round"/>
<path d="M766,368L769,366L770,368L767.6,370Z" fill="none" stroke="#3f5f5c" stroke-opacity="0.55" stroke-width="0.5" stroke-linejoin="round"/>
</g>
</g>
<g id="legend">
<rect x="101.5" y="538.0" width="47.5" height="11.0" fill="url(#hatch)" stroke="#c9c9c9" stroke-width="0.7"/>
<line x1="125" x2="125" y1="535" y2="538" stroke="#c9c9c9" stroke-width="0.7"/>
<text x="125" y="530" text-anchor="middle" class="lt">No data</text>
<rect x="169.00" y="538.0" width="72.50" height="11.0" fill="#f7fcf0"/>
<rect x="241.50" y="538.0" width="72.50" height="11.0" fill="#e0f3db"/>
<rect x="314.00" y="538.0" width="72.50" height="11.0" fill="#ccebc5"/>
<rect x="386.50" y="538.0" width="72.50" height="11.0" fill="#a8ddb5"/>
<rect x="459.00" y="538.0" width="72.50" height="11.0" fill="#7bccc4"/>
<rect x="531.50" y="538.0" width="72.50" height="11.0" fill="#4eb3d3"/>
<rect x="604.00" y="538.0" width="72.50" height="11.0" fill="#2b8cbe"/>
<rect x="676.50" y="538.0" width="72.50" height="11.0" fill="#08589e"/>
<rect x="169.00" y="538.0" width="580.00" height="11.0" fill="none" stroke="#b8b8b8" stroke-width="0.6"/>
<line x1="169.00" x2="169.00" y1="520" y2="549.0" stroke="#222" stroke-opacity="0.3" stroke-width="0.9"/>
<text x="169.00" y="515.5" text-anchor="middle" class="lt">0 ATMs</text>
<line x1="241.50" x2="241.50" y1="534.5" y2="549.0" stroke="#222" stroke-opacity="0.3" stroke-width="0.9"/>
<text x="241.50" y="530" text-anchor="middle" class="lt">2 ATMs</text>
<line x1="314.00" x2="314.00" y1="520" y2="549.0" stroke="#222" stroke-opacity="0.3" stroke-width="0.9"/>
<text x="314.00" y="515.5" text-anchor="middle" class="lt">5 ATMs</text>
<line x1="386.50" x2="386.50" y1="534.5" y2="549.0" stroke="#222" stroke-opacity="0.3" stroke-width="0.9"/>
<text x="386.50" y="530" text-anchor="middle" class="lt">10 ATMs</text>
<line x1="459.00" x2="459.00" y1="520" y2="549.0" stroke="#222" stroke-opacity="0.3" stroke-width="0.9"/>
<text x="459.00" y="515.5" text-anchor="middle" class="lt">20 ATMs</text>
<line x1="531.50" x2="531.50" y1="534.5" y2="549.0" stroke="#222" stroke-opacity="0.3" stroke-width="0.9"/>
<text x="531.50" y="530" text-anchor="middle" class="lt">50 ATMs</text>
<line x1="604.00" x2="604.00" y1="520" y2="549.0" stroke="#222" stroke-opacity="0.3" stroke-width="0.9"/>
<text x="604.00" y="515.5" text-anchor="middle" class="lt">100 ATMs</text>
<line x1="676.50" x2="676.50" y1="534.5" y2="549.0" stroke="#222" stroke-opacity="0.3" stroke-width="0.9"/>
<text x="676.50" y="530" text-anchor="middle" class="lt">200 ATMs</text>
<line x1="749.00" x2="749.00" y1="520" y2="549.0" stroke="#222" stroke-opacity="0.3" stroke-width="0.9"/>
<text x="749.00" y="515.5" text-anchor="middle" class="lt">500 ATMs</text>
</g>
</svg>
<div id="src"><b>Data source:</b> Financial Access Survey - IMF, via World Bank (2026)</div>
<div id="url">OurWorldinData.org/economic-growth | CC BY</div>
</body></html>
